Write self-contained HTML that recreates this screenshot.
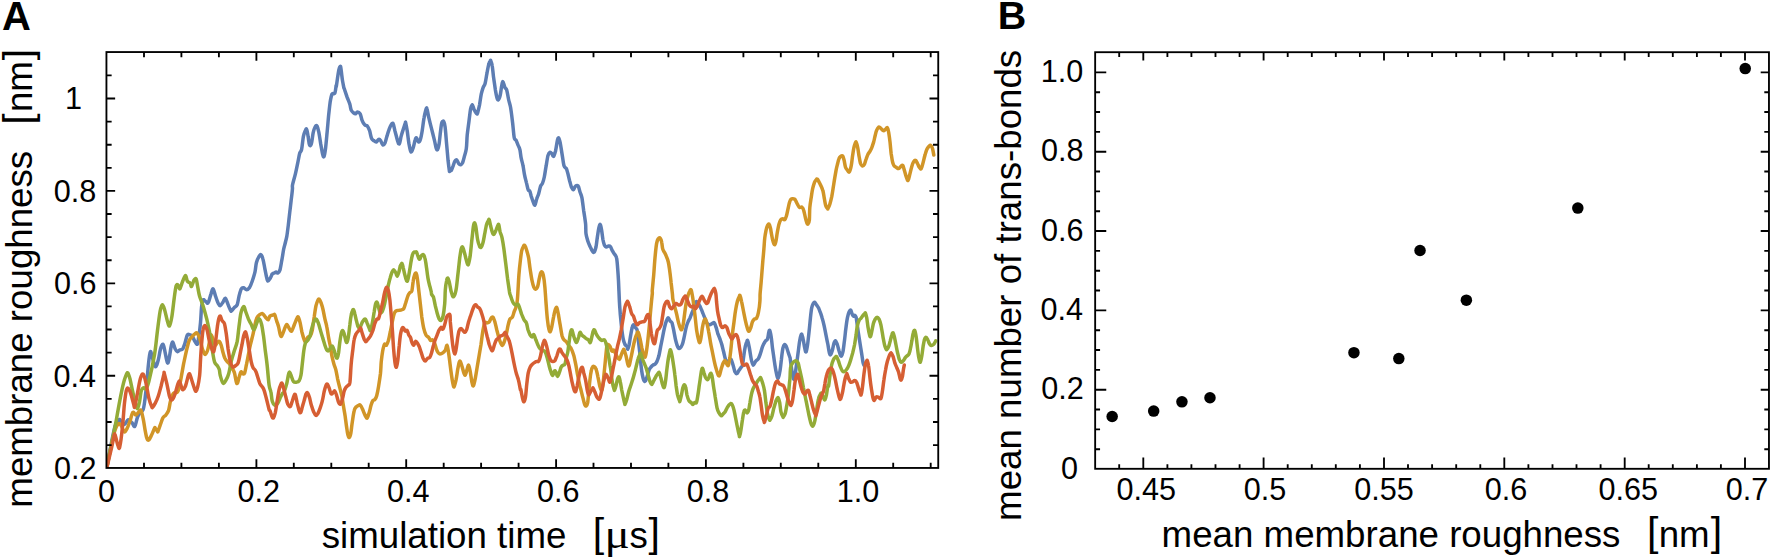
<!DOCTYPE html>
<html><head><meta charset="utf-8"><title>Figure</title>
<style>html,body{margin:0;padding:0;background:#fff}svg{display:block}text{font-family:"Liberation Sans",Arial,Helvetica,sans-serif;fill:#000}</style></head>
<body>
<svg width="1772" height="559" viewBox="0 0 1772 559">
<rect width="1772" height="559" fill="#fff"/>
<clipPath id="ca"><rect x="106.44" y="52.05" width="831.8" height="415.9"/></clipPath>
<g clip-path="url(#ca)" fill="none" stroke-width="3.5" stroke-linejoin="round" stroke-linecap="round">
<path stroke="#5D7DB3" d="M106.8,467.7C107.5,463.6 109.9,450.2 111.3,443.3C112.7,436.4 113.8,430.3 115.0,426.4C116.3,422.5 117.8,420.7 118.8,419.8C119.7,418.9 119.7,419.9 120.7,420.7C121.6,421.5 123.2,424.6 124.4,424.5C125.7,424.3 126.9,420.1 128.2,419.8C129.4,419.5 130.8,421.5 131.9,422.6C133.0,423.7 133.8,427.3 134.8,426.4C135.7,425.4 136.6,419.3 137.6,417.0C138.5,414.6 139.5,413.5 140.4,412.3C141.3,411.0 142.4,411.8 143.2,409.5C144.0,407.1 144.5,402.9 145.1,398.2C145.7,393.5 146.4,387.0 147.0,381.3C147.5,375.6 147.9,368.9 148.5,363.9C149.0,359.0 149.7,352.7 150.4,351.7C151.0,350.8 151.8,355.8 152.6,358.3C153.5,360.8 154.5,366.5 155.4,366.8C156.4,367.1 157.4,363.2 158.2,360.2C159.1,357.2 159.7,351.6 160.5,348.9C161.3,346.3 162.2,343.9 162.9,344.2C163.7,344.5 164.2,348.1 164.8,350.8C165.4,353.5 166.2,358.2 166.7,360.2C167.2,362.2 167.5,363.6 168.0,363.0C168.5,362.4 169.0,359.4 169.5,356.4C170.1,353.5 170.8,347.5 171.4,345.2C172.0,342.8 172.3,341.7 172.9,342.3C173.5,343.0 174.4,347.3 175.2,348.9C175.9,350.5 176.6,351.6 177.4,351.7C178.2,351.9 179.0,350.3 179.9,349.9C180.7,349.4 181.8,350.0 182.7,348.9C183.5,347.8 184.1,345.6 184.9,343.3C185.7,340.9 186.6,336.2 187.4,334.8C188.2,333.4 189.0,334.7 189.8,334.8C190.6,335.0 191.2,334.7 192.1,335.8C192.9,336.9 194.0,340.0 194.9,341.4C195.8,342.8 196.7,344.8 197.3,344.2C198.0,343.6 198.1,341.2 198.6,337.6C199.2,334.0 200.1,327.6 200.5,322.6C201.0,317.6 201.1,311.3 201.5,307.6C201.9,303.8 202.3,301.2 203.0,300.1C203.6,299.0 204.4,300.5 205.2,301.0C206.1,301.5 207.1,304.0 208.0,302.9C209.0,301.8 210.0,296.8 210.9,294.4C211.7,292.1 212.3,288.5 213.1,288.8C213.9,289.1 214.7,293.8 215.6,296.3C216.4,298.8 217.6,302.3 218.4,303.8C219.2,305.4 219.5,306.0 220.3,305.7C221.0,305.4 222.2,303.2 223.1,301.9C223.9,300.7 224.5,297.9 225.3,298.2C226.1,298.5 226.9,301.8 227.8,303.8C228.6,305.9 230.0,309.2 230.6,310.4C231.2,311.6 230.9,311.2 231.5,310.8C232.2,310.3 233.4,308.6 234.3,307.6C235.3,306.6 236.4,306.6 237.2,304.8C237.9,302.9 238.4,299.0 239.0,296.3C239.7,293.6 240.5,290.2 241.3,288.8C242.1,287.4 242.9,287.7 243.7,287.8C244.6,288.0 245.6,289.7 246.6,289.7C247.5,289.7 248.4,289.3 249.4,287.8C250.3,286.4 251.3,283.9 252.2,281.3C253.1,278.6 254.3,275.0 255.0,271.9C255.7,268.8 255.7,265.3 256.4,262.7C257.1,260.0 258.4,257.4 259.2,256.1C260.0,254.8 260.4,254.3 261.1,254.8C261.7,255.3 262.3,256.7 262.9,258.9C263.6,261.2 264.2,265.2 264.8,268.3C265.4,271.4 266.2,275.6 266.7,277.7C267.2,279.8 267.4,281.1 268.0,281.1C268.6,281.1 269.7,278.9 270.5,277.7C271.2,276.5 271.7,274.7 272.3,273.9C273.0,273.2 273.6,273.3 274.2,273.0C274.8,272.7 275.5,272.1 276.1,272.1C276.7,272.1 277.3,273.3 278.0,273.0C278.6,272.7 279.2,272.2 279.9,270.2C280.5,268.2 281.1,264.2 281.7,260.8C282.4,257.3 283.0,252.7 283.6,249.5C284.2,246.4 285.0,244.2 285.5,242.0C286.0,239.8 286.3,239.2 286.8,236.4C287.3,233.5 287.8,229.2 288.3,225.1C288.8,221.0 289.3,216.0 289.8,211.9C290.3,207.9 290.7,204.4 291.1,200.7C291.6,196.9 292.2,192.0 292.4,189.4C292.7,186.8 292.1,187.6 292.5,185.0C293.0,182.5 294.5,177.7 295.4,173.9C296.2,170.2 297.1,166.1 297.8,162.7C298.5,159.2 299.1,155.5 299.7,153.3C300.3,151.1 300.9,152.3 301.6,149.5C302.2,146.7 302.8,139.5 303.4,136.4C304.1,133.2 304.8,131.9 305.3,130.7C305.9,129.5 306.2,128.3 306.6,129.2C307.1,130.2 307.7,133.8 308.1,136.4C308.6,139.0 308.9,143.6 309.5,144.8C310.0,146.1 310.7,145.9 311.3,143.9C312.0,141.8 312.6,135.4 313.2,132.6C313.8,129.8 314.5,128.1 315.1,127.0C315.7,125.9 316.3,125.1 317.0,126.0C317.6,127.0 318.2,129.6 318.9,132.6C319.5,135.6 320.1,140.3 320.7,143.9C321.4,147.5 322.1,152.1 322.6,154.2C323.1,156.3 323.5,157.4 323.9,156.7C324.4,155.9 324.9,153.2 325.4,149.5C325.9,145.8 326.4,140.1 326.9,134.5C327.5,128.9 328.1,121.0 328.6,115.7C329.2,110.4 329.6,106.1 330.1,102.5C330.7,98.9 331.2,95.7 332.0,94.1C332.8,92.5 334.1,94.6 334.8,93.2C335.5,91.7 335.9,86.8 336.1,85.6C336.4,84.5 336.1,87.7 336.3,86.3C336.6,85.0 337.2,80.3 337.6,77.6C338.0,74.9 338.5,71.8 338.8,70.1C339.2,68.3 339.5,67.4 339.8,66.9C340.1,66.4 340.4,65.8 340.7,66.9C341.0,68.1 341.3,71.4 341.6,73.8C341.9,76.2 342.2,79.0 342.6,81.3C343.0,83.6 343.6,86.4 343.8,87.6C344.1,88.8 343.7,86.9 344.2,88.5C344.7,90.0 346.1,94.2 347.0,96.9C348.0,99.6 349.2,102.2 349.9,104.4C350.5,106.6 350.5,108.7 351.2,110.1C351.8,111.5 352.9,112.3 353.6,112.9C354.3,113.5 354.9,114.0 355.5,113.8C356.1,113.7 356.6,111.9 357.4,111.9C358.2,111.9 359.4,112.4 360.2,113.8C361.0,115.2 361.3,118.5 362.1,120.4C362.8,122.3 364.0,124.2 364.9,125.1C365.8,126.0 366.5,125.1 367.3,126.0C368.1,127.0 368.9,128.7 369.6,130.7C370.3,132.8 370.8,136.6 371.5,138.2C372.2,139.9 372.9,139.9 373.7,140.5C374.5,141.1 375.3,142.2 376.2,142.0C377.0,141.8 378.2,139.3 379.0,139.2C379.8,139.0 380.2,140.1 380.9,141.1C381.5,142.0 382.0,144.5 382.7,144.8C383.4,145.1 384.3,144.4 385.0,142.9C385.7,141.5 386.1,138.7 386.9,136.4C387.6,134.0 388.6,130.8 389.3,128.9C390.0,126.9 390.6,125.6 391.2,124.7C391.8,123.8 392.4,122.6 393.1,123.6C393.7,124.6 394.2,128.0 394.9,130.7C395.7,133.5 396.7,137.9 397.4,140.1C398.1,142.3 398.6,144.5 399.3,143.9C399.9,143.3 400.5,138.9 401.1,136.4C401.8,133.9 402.7,131.0 403.4,128.9C404.1,126.7 404.9,124.2 405.3,123.2C405.7,122.2 405.3,121.6 405.7,122.8C406.0,124.1 406.6,127.2 407.2,130.7C407.7,134.2 408.4,140.4 409.0,143.9C409.7,147.4 410.2,151.1 410.9,151.8C411.6,152.4 412.5,149.6 413.2,147.6C413.9,145.7 414.5,141.8 415.1,140.1C415.6,138.5 416.0,137.6 416.6,137.9C417.1,138.2 417.8,141.7 418.4,142.0C419.1,142.3 419.7,141.6 420.3,139.7C420.9,137.9 421.6,134.4 422.2,130.7C422.8,127.0 423.4,121.1 424.1,117.6C424.7,114.1 425.5,111.2 425.9,109.7C426.4,108.2 426.4,107.2 426.9,108.6C427.4,109.9 428.0,114.2 428.8,117.6C429.6,121.0 430.6,125.1 431.6,128.9C432.5,132.6 433.6,136.8 434.4,140.1C435.2,143.4 435.8,147.0 436.3,148.6C436.8,150.1 437.1,150.3 437.6,149.5C438.1,148.7 438.6,147.0 439.1,143.9C439.6,140.8 440.1,134.3 440.6,130.7C441.1,127.1 441.4,123.8 441.9,122.3C442.5,120.8 443.3,120.9 443.8,121.7C444.3,122.5 444.6,123.3 445.1,127.0C445.6,130.7 446.1,138.2 446.6,143.9C447.1,149.5 447.7,156.3 448.1,160.8C448.6,165.3 449.2,169.7 449.4,171.1C449.7,172.6 449.5,169.6 449.8,169.5C450.1,169.3 450.7,171.0 451.3,170.4C451.8,169.8 452.5,167.3 453.2,165.7C453.8,164.1 454.4,161.9 455.0,161.0C455.7,160.1 456.3,159.6 456.9,160.1C457.5,160.5 458.2,163.0 458.8,163.8C459.4,164.6 460.0,164.9 460.7,164.8C461.3,164.6 461.9,164.3 462.5,162.9C463.2,161.5 463.8,158.7 464.4,156.3C465.1,154.0 465.8,152.3 466.3,148.8C466.8,145.3 466.8,140.0 467.2,135.2C467.7,130.4 468.6,124.5 469.1,120.2C469.7,115.8 470.1,111.5 470.6,108.9C471.2,106.3 471.7,104.6 472.3,104.7C472.9,104.9 473.5,108.4 474.2,109.8C474.9,111.3 476.1,113.0 476.6,113.6C477.2,114.1 477.1,114.4 477.6,113.0C478.0,111.6 478.8,108.3 479.5,105.1C480.1,101.9 480.7,96.8 481.3,93.9C482.0,90.9 482.6,89.0 483.2,87.3C483.8,85.6 484.5,85.9 485.1,83.5C485.7,81.2 486.3,76.5 487.0,73.2C487.6,69.9 488.3,65.8 488.9,63.8C489.4,61.8 490.0,61.5 490.4,61.0C490.7,60.4 490.4,59.8 490.7,60.6C491.0,61.4 491.8,62.9 492.2,65.7C492.7,68.4 493.0,72.9 493.5,76.9C494.1,81.0 494.9,86.6 495.4,90.1C496.0,93.5 496.5,96.0 496.9,97.6C497.4,99.2 497.7,100.2 498.2,99.9C498.8,99.6 499.6,98.0 500.1,95.7C500.7,93.5 501.2,88.7 501.6,86.3C502.1,84.0 502.4,81.5 502.9,81.6C503.5,81.8 504.2,85.9 504.8,87.3C505.4,88.7 506.1,88.1 506.7,90.1C507.3,92.1 508.0,96.7 508.6,99.5C509.2,102.3 509.8,103.6 510.5,107.0C511.1,110.4 511.7,115.1 512.3,120.2C513.0,125.2 513.6,134.2 514.2,137.5C514.8,140.9 515.5,139.1 516.1,140.3C516.7,141.6 517.3,143.5 518.0,145.0C518.6,146.6 519.3,147.5 519.9,149.7C520.4,151.9 520.6,155.5 521.2,158.2C521.7,160.8 522.5,162.9 523.0,165.7C523.6,168.5 524.0,172.3 524.6,175.1C525.1,177.9 525.8,180.1 526.4,182.6C527.1,185.1 527.7,188.7 528.3,190.1C528.9,191.5 529.3,190.1 529.8,191.1C530.3,192.0 530.6,194.0 531.1,195.8C531.7,197.5 532.4,199.8 533.0,201.4C533.6,203.0 534.3,205.6 534.9,205.2C535.5,204.7 536.1,200.5 536.8,198.6C537.4,196.7 538.0,195.9 538.6,193.9C539.3,191.8 539.9,188.1 540.5,186.4C541.1,184.6 541.8,185.1 542.4,183.5C543.0,182.0 543.7,179.9 544.3,177.0C544.9,174.0 545.5,169.3 546.2,165.7C546.8,162.1 547.4,157.6 548.0,155.4C548.7,153.1 549.3,152.5 549.9,152.2C550.5,151.9 551.2,152.8 551.8,153.5C552.4,154.2 553.0,156.8 553.7,156.3C554.3,155.8 554.9,153.3 555.6,150.7C556.2,148.0 556.9,142.5 557.4,140.3C558.0,138.2 558.3,137.4 558.7,137.9C559.2,138.4 559.7,140.4 560.3,143.2C560.8,145.9 561.5,150.7 562.1,154.4C562.8,158.2 563.3,163.4 564.0,165.7C564.7,168.0 565.6,167.3 566.3,168.5C566.9,169.8 567.2,171.2 567.8,173.2C568.3,175.3 569.0,178.4 569.6,180.7C570.3,183.1 570.9,185.8 571.5,187.3C572.2,188.8 572.8,189.9 573.4,189.7C574.0,189.6 574.5,187.0 575.3,186.4C576.1,185.7 577.3,185.1 578.1,186.0C578.9,186.9 579.4,190.1 580.0,192.0C580.6,193.9 581.2,194.5 581.9,197.6C582.5,200.8 583.1,206.4 583.7,210.8C584.4,215.2 585.2,220.1 585.6,223.9C586.0,227.8 585.6,230.9 586.0,233.8C586.4,236.7 587.2,239.1 587.9,241.3C588.6,243.5 589.6,245.4 590.3,247.0C591.1,248.5 591.6,249.9 592.2,250.7C592.8,251.6 593.5,252.9 594.1,252.2C594.7,251.6 595.4,249.4 596.0,247.0C596.5,244.5 596.8,240.7 597.3,237.6C597.8,234.4 598.3,230.4 598.8,228.2C599.3,226.0 599.8,224.1 600.3,224.4C600.8,224.7 601.2,227.6 601.6,230.1C602.0,232.6 602.5,237.0 602.9,239.5C603.4,242.0 603.9,243.8 604.4,245.1C605.0,246.3 605.6,246.8 606.3,247.0C607.0,247.1 607.9,246.1 608.6,246.0C609.2,246.0 609.8,245.8 610.4,246.6C611.1,247.4 611.6,249.4 612.3,250.7C613.0,252.0 614.0,253.2 614.8,254.5C615.5,255.7 616.2,256.1 616.6,258.2C617.1,260.4 617.3,263.9 617.6,267.6C617.9,271.4 618.2,275.2 618.5,280.8C618.8,286.4 619.1,295.7 619.4,301.3C619.7,306.9 620.0,310.0 620.3,314.4C620.7,318.8 621.2,323.5 621.6,327.6C622.1,331.6 622.6,336.0 623.2,338.9C623.7,341.7 624.4,343.2 625.0,344.5C625.7,345.7 626.4,345.6 626.9,346.4C627.4,347.2 627.5,349.5 627.8,349.2C628.2,348.9 628.7,346.8 629.2,344.5C629.6,342.1 630.2,337.9 630.7,335.1C631.2,332.3 631.7,329.3 632.2,327.6C632.6,325.9 633.0,324.8 633.5,324.8C634.0,324.8 634.7,326.6 635.4,327.6C636.0,328.5 636.8,328.5 637.2,330.4C637.7,332.3 637.8,335.3 638.2,338.9C638.6,342.5 639.2,347.6 639.7,352.0C640.2,356.4 640.6,361.4 641.0,365.2C641.4,368.9 641.8,372.0 642.3,374.6C642.8,377.1 643.3,379.1 643.8,380.2C644.3,381.3 644.8,381.8 645.3,381.1C645.9,380.5 646.6,378.3 647.2,376.4C647.8,374.6 648.5,371.4 649.1,369.9C649.7,368.3 650.3,367.8 651.0,367.0C651.6,366.3 652.2,365.6 652.8,365.2C653.5,364.7 654.4,364.8 655.1,364.2C655.8,363.6 656.3,362.8 657.0,361.4C657.6,360.0 658.2,358.3 658.9,355.8C659.5,353.3 660.1,349.5 660.7,346.4C661.4,343.2 662.0,340.1 662.6,337.0C663.2,333.8 663.9,330.2 664.5,327.6C665.1,324.9 665.7,322.6 666.4,321.0C667.0,319.4 667.6,317.8 668.2,317.8C668.9,317.8 669.5,320.2 670.1,321.0C670.8,321.8 671.4,321.2 672.0,322.9C672.6,324.6 673.3,328.4 673.9,331.3C674.5,334.3 675.1,338.1 675.8,340.7C676.5,343.4 677.3,346.1 678.0,347.3C678.7,348.6 679.2,348.7 679.9,348.2C680.6,347.8 681.6,346.4 682.3,344.5C683.1,342.6 683.6,339.8 684.2,337.0C684.8,334.2 685.5,330.1 686.1,327.6C686.7,325.1 687.3,323.5 688.0,321.9C688.6,320.4 689.2,319.6 689.9,318.2C690.5,316.8 691.1,315.1 691.7,313.5C692.4,311.9 693.0,310.5 693.6,308.8C694.2,307.1 695.0,304.3 695.5,303.2C696.0,302.0 696.2,301.3 696.8,301.6C697.4,302.0 698.5,303.8 699.2,305.0C700.0,306.2 700.5,307.4 701.1,308.8C701.8,310.2 702.4,311.9 703.0,313.5C703.6,315.1 704.3,316.6 704.9,318.2C705.5,319.7 706.0,321.8 706.8,322.9C707.5,324.0 708.6,324.7 709.6,324.8C710.5,324.9 711.6,323.8 712.4,323.4C713.2,323.1 713.7,322.2 714.3,322.9C714.9,323.6 715.5,325.7 716.2,327.6C716.8,329.5 717.4,332.3 718.0,334.2C718.7,336.0 719.3,337.1 719.9,338.9C720.5,340.6 721.2,342.3 721.8,344.5C722.4,346.7 723.0,349.5 723.7,352.0C724.3,354.5 724.9,358.0 725.6,359.5C726.2,361.1 726.8,361.2 727.4,361.4C728.1,361.6 728.7,360.8 729.3,360.5C729.9,360.1 730.6,358.7 731.2,359.5C731.8,360.3 732.4,363.1 733.1,365.2C733.7,367.2 734.3,370.3 734.9,371.7C735.6,373.1 736.2,373.8 736.8,373.6C737.5,373.5 738.1,371.7 738.7,370.8C739.3,369.9 740.0,368.9 740.6,368.0C741.2,367.0 741.9,367.2 742.5,365.2C743.0,363.1 743.3,358.9 743.8,355.8C744.2,352.6 744.8,348.7 745.3,346.4C745.8,344.0 746.4,342.6 746.8,341.7C747.2,340.7 747.3,339.6 747.7,340.7C748.2,341.8 748.8,345.1 749.4,348.2C750.0,351.4 750.7,356.7 751.3,359.5C751.9,362.3 752.5,364.8 753.2,365.2C753.9,365.5 754.7,362.5 755.6,361.4C756.5,360.3 757.7,359.8 758.4,358.6C759.2,357.3 759.6,355.9 760.3,353.9C761.0,351.8 761.8,348.4 762.6,346.4C763.4,344.3 764.2,342.9 765.0,341.7C765.8,340.4 766.8,340.4 767.5,338.9C768.1,337.3 768.4,333.7 768.8,332.3C769.1,330.9 769.3,329.6 769.7,330.4C770.1,331.2 770.7,334.0 771.2,337.0C771.7,339.9 772.0,344.2 772.5,348.2C773.1,352.3 773.8,357.3 774.4,361.4C775.0,365.5 775.7,369.9 776.3,372.7C776.9,375.5 777.5,378.6 778.2,378.3C778.8,378.0 779.5,373.9 780.0,370.8C780.6,367.7 780.9,363.3 781.4,359.5C781.8,355.8 782.4,350.8 782.9,348.2C783.4,345.7 783.8,344.8 784.4,344.5C784.9,344.2 785.6,345.1 786.2,346.4C786.9,347.6 787.5,350.1 788.1,352.0C788.7,353.9 789.6,356.4 790.0,357.6C790.4,358.9 790.0,357.6 790.3,359.5C790.6,361.4 791.2,366.1 791.6,368.9C792.0,371.7 792.5,374.7 792.9,376.4C793.3,378.2 793.6,379.9 794.1,379.2C794.5,378.6 794.9,375.3 795.4,372.7C795.8,370.0 796.2,366.7 796.7,363.3C797.2,359.8 797.7,355.8 798.2,352.0C798.7,348.2 799.2,343.5 799.7,340.7C800.2,337.9 800.6,336.1 801.0,335.1C801.4,334.1 801.5,333.8 801.9,334.7C802.3,335.7 803.0,338.5 803.4,340.7C803.9,343.0 804.3,346.4 804.8,348.2C805.2,350.1 805.6,352.6 806.1,352.0C806.5,351.4 807.1,347.9 807.6,344.5C808.1,341.0 808.6,335.7 809.1,331.3C809.6,327.0 810.0,322.1 810.4,318.2C810.8,314.3 811.2,310.3 811.7,307.8C812.2,305.4 812.7,304.5 813.2,303.5C813.7,302.6 814.2,302.0 814.7,302.2C815.3,302.5 816.0,304.1 816.6,305.0C817.2,306.0 817.8,306.6 818.5,307.8C819.1,309.1 819.7,310.8 820.4,312.5C821.0,314.3 821.6,316.0 822.2,318.2C822.9,320.4 823.5,322.9 824.1,325.7C824.7,328.5 825.4,332.0 826.0,335.1C826.6,338.2 827.3,341.7 827.9,344.5C828.4,347.3 828.7,350.3 829.2,352.0C829.6,353.7 830.0,355.1 830.5,354.8C831.0,354.5 831.8,352.0 832.4,350.1C832.9,348.2 833.4,345.1 833.9,343.5C834.4,342.0 834.8,340.6 835.4,340.7C835.9,340.9 836.6,342.8 837.3,344.5C837.9,346.2 838.5,349.1 839.1,351.1C839.8,353.0 840.4,356.0 841.0,356.1C841.6,356.3 842.4,354.3 842.9,352.0C843.4,349.7 843.8,346.1 844.2,342.6C844.7,339.2 845.1,335.1 845.5,331.3C846.0,327.6 846.5,323.0 847.0,320.1C847.5,317.1 848.1,315.1 848.5,313.5C849.0,311.9 849.5,311.2 849.9,310.7C850.2,310.1 850.4,309.7 850.8,310.3C851.2,310.9 851.8,313.4 852.3,314.4C852.8,315.4 853.2,316.1 853.6,316.3C854.1,316.5 854.5,315.2 854.9,315.4C855.3,315.5 855.6,315.5 856.1,317.2C856.5,319.0 856.9,322.7 857.4,325.7C857.8,328.7 858.2,332.0 858.7,335.1C859.2,338.2 859.7,341.4 860.2,344.5C860.7,347.6 861.2,350.9 861.7,353.9C862.2,356.9 862.6,360.5 863.0,362.3C863.4,364.2 863.8,364.7 863.9,365.2"/>
<path stroke="#D19527" d="M106.8,467.7C107.5,463.9 109.9,451.4 111.3,445.2C112.7,438.9 113.8,433.7 115.0,430.1C116.3,426.5 117.7,424.2 118.8,423.5C119.9,422.9 120.7,425.0 121.6,426.4C122.5,427.8 123.5,431.7 124.4,432.0C125.4,432.3 126.3,430.1 127.2,428.2C128.2,426.4 129.1,423.4 130.1,420.7C131.0,418.1 131.9,413.2 132.9,412.3C133.8,411.3 134.8,415.1 135.7,415.1C136.6,415.1 137.6,413.1 138.5,412.3C139.4,411.5 140.2,409.3 141.0,410.4C141.7,411.5 142.5,415.6 143.2,418.9C143.9,422.1 144.5,426.8 145.1,430.1C145.7,433.4 146.3,437.0 147.0,438.6C147.6,440.2 148.1,440.5 148.9,439.9C149.6,439.3 150.7,436.8 151.7,434.8C152.6,432.9 153.9,429.4 154.5,428.2C155.1,427.1 154.6,427.4 155.1,427.9C155.5,428.3 156.8,430.4 157.3,431.1C157.8,431.7 157.4,432.6 157.9,431.6C158.3,430.7 159.3,427.7 160.1,425.4C161.0,423.1 162.0,419.6 162.9,417.9C163.9,416.2 164.8,416.3 165.8,415.1C166.7,413.8 167.8,412.7 168.6,410.4C169.4,408.0 169.7,403.8 170.5,401.0C171.2,398.2 172.2,394.9 173.3,393.5C174.4,392.1 176.1,393.3 177.0,392.5C178.0,391.8 178.3,391.0 178.9,388.8C179.5,386.6 180.0,383.5 180.8,379.4C181.6,375.3 182.7,368.7 183.6,363.9C184.6,359.2 185.5,354.7 186.4,350.8C187.4,346.9 188.3,342.8 189.2,340.5C190.2,338.1 191.1,337.8 192.1,336.7C193.0,335.6 194.1,334.5 194.9,333.9C195.7,333.3 196.1,332.6 196.8,332.9C197.4,333.3 198.0,334.4 198.6,335.8C199.3,337.2 199.9,339.2 200.5,341.4C201.1,343.6 201.6,346.7 202.4,348.9C203.2,351.1 204.3,354.6 205.2,354.6C206.2,354.6 207.3,351.4 208.0,348.9C208.8,346.4 209.4,341.9 209.9,339.5C210.4,337.2 210.6,334.5 211.2,334.8C211.9,335.1 213.0,339.7 213.7,341.4C214.4,343.1 214.9,345.0 215.6,345.2C216.2,345.3 216.8,343.0 217.4,342.3C218.1,341.7 218.7,340.9 219.3,341.4C219.9,341.9 220.6,343.3 221.2,345.2C221.8,347.0 222.4,350.5 223.1,352.7C223.7,354.9 224.3,356.9 224.9,358.3C225.6,359.7 226.0,360.2 226.8,361.1C227.6,362.1 228.9,362.8 229.6,363.9C230.4,365.0 230.7,366.3 231.5,367.7C232.3,369.1 233.5,369.8 234.3,372.4C235.2,375.0 236.0,382.7 236.8,383.5C237.6,384.4 238.4,379.5 239.0,377.5C239.7,375.6 240.3,372.5 240.9,371.9C241.5,371.3 242.2,373.6 242.8,373.8C243.4,373.9 244.1,374.5 244.7,372.8C245.3,371.2 245.9,367.0 246.6,363.9C247.2,360.9 247.8,357.7 248.4,354.6C249.1,351.4 249.5,348.6 250.3,345.2C251.1,341.7 252.3,337.3 253.1,333.9C253.9,330.4 254.4,327.2 255.0,324.5C255.6,321.8 256.1,319.5 256.9,317.9C257.7,316.3 258.8,315.4 259.7,314.7C260.6,314.0 261.6,313.2 262.5,313.6C263.5,314.0 264.4,315.9 265.3,317.0C266.3,318.0 267.4,319.9 268.2,319.8C268.9,319.6 269.2,316.8 270.0,316.0C270.8,315.3 272.0,315.3 272.8,315.1C273.6,314.9 274.1,313.8 274.7,314.7C275.3,315.7 275.9,318.8 276.6,320.7C277.2,322.7 277.8,324.0 278.5,326.4C279.1,328.7 279.8,333.2 280.3,334.8C280.9,336.5 281.0,336.9 281.6,336.1C282.3,335.4 283.4,331.9 284.1,330.1C284.8,328.3 285.4,326.3 286.0,325.4C286.5,324.6 286.7,324.2 287.3,324.9C287.9,325.5 289.0,328.2 289.7,329.2C290.4,330.2 290.8,331.8 291.6,331.1C292.4,330.3 293.6,326.5 294.4,324.5C295.3,322.5 296.1,320.1 296.7,318.9C297.3,317.6 297.6,316.3 298.2,317.0C298.7,317.6 299.4,320.1 300.1,322.6C300.7,325.1 301.3,329.3 301.9,332.0C302.6,334.7 303.2,336.9 303.8,338.6C304.4,340.3 305.1,342.5 305.7,342.3C306.3,342.2 306.8,338.7 307.6,337.6C308.4,336.5 309.6,337.0 310.4,335.8C311.2,334.5 311.6,333.3 312.3,330.1C312.9,327.0 313.5,321.0 314.2,317.0C314.8,312.9 315.4,308.5 316.0,305.7C316.7,302.9 317.4,301.2 317.9,300.1C318.4,299.0 318.7,298.7 319.2,299.1C319.8,299.6 320.5,301.2 321.1,302.9C321.7,304.6 322.4,306.8 323.0,309.5C323.6,312.1 324.2,316.0 324.9,318.9C325.5,321.7 326.1,323.2 326.7,326.4C327.4,329.5 328.0,334.2 328.6,337.6C329.2,341.1 329.9,343.9 330.5,347.0C331.1,350.2 331.4,353.6 332.0,356.4C332.6,359.2 333.3,361.8 333.9,363.9C334.5,366.1 335.1,367.1 335.8,369.6C336.4,372.1 337.0,375.7 337.6,378.8C338.3,381.9 339.2,385.4 339.9,388.2C340.6,391.0 341.2,392.9 341.8,395.7C342.3,398.5 342.7,401.6 343.3,405.1C343.8,408.5 344.6,412.6 345.2,416.4C345.7,420.1 346.2,424.5 346.7,427.6C347.1,430.8 347.5,433.5 348.0,435.2C348.4,436.8 348.8,437.7 349.3,437.4C349.8,437.1 350.3,435.8 350.8,433.3C351.3,430.7 351.7,425.8 352.3,422.0C352.9,418.2 353.5,413.2 354.2,410.7C354.8,408.2 355.4,407.8 356.1,407.0C356.7,406.1 357.6,405.8 358.3,405.5C359.0,405.2 359.5,404.5 360.2,405.1C360.9,405.7 361.8,407.4 362.4,408.9C363.1,410.3 363.7,412.1 364.3,413.5C364.9,415.0 365.7,416.6 366.2,417.3C366.7,418.0 366.8,418.7 367.3,417.9C367.8,417.1 368.6,414.7 369.2,412.6C369.8,410.5 370.5,407.1 371.1,405.1C371.7,403.1 372.3,401.3 373.0,400.4C373.6,399.5 374.2,400.2 374.8,399.5C375.5,398.7 376.1,397.9 376.7,395.7C377.3,393.5 378.0,390.1 378.6,386.3C379.2,382.5 380.0,377.2 380.5,373.2C380.9,369.1 380.9,365.8 381.2,362.1C381.6,358.3 382.2,353.8 382.7,350.8C383.3,347.8 384.0,345.2 384.6,344.2C385.2,343.3 385.9,345.8 386.5,345.2C387.1,344.5 387.7,342.7 388.4,340.5C389.0,338.3 389.6,335.0 390.3,332.0C390.9,329.0 391.5,325.6 392.1,322.6C392.8,319.6 393.4,316.1 394.0,314.2C394.6,312.2 395.1,311.6 395.9,311.0C396.7,310.3 397.8,310.6 398.7,310.4C399.6,310.2 400.7,310.1 401.5,309.8C402.4,309.5 403.1,309.7 403.8,308.5C404.5,307.4 404.9,305.1 405.7,302.9C406.4,300.7 407.4,297.1 408.1,295.4C408.8,293.6 409.4,293.3 410.0,292.5C410.6,291.8 411.3,292.5 411.9,290.7C412.4,288.8 412.7,283.9 413.2,281.3C413.6,278.6 414.2,276.0 414.7,274.7C415.2,273.4 415.7,272.6 416.2,273.4C416.6,274.2 417.1,276.5 417.5,279.4C417.9,282.3 418.3,286.6 418.8,290.7C419.3,294.7 419.8,299.4 420.3,303.8C420.8,308.2 421.3,312.9 421.8,317.0C422.4,321.0 423.0,325.3 423.7,328.2C424.4,331.2 425.1,333.3 425.9,334.8C426.8,336.4 428.0,336.7 428.8,337.6C429.6,338.6 430.0,340.1 430.6,340.5C431.3,340.8 431.9,339.6 432.5,339.9C433.2,340.2 433.8,340.8 434.4,342.3C435.0,343.8 435.7,347.2 436.3,348.9C436.9,350.6 437.5,351.8 438.2,352.7C438.8,353.5 439.2,353.8 440.0,353.9C440.8,353.9 441.9,353.6 442.8,352.9C443.7,352.3 444.5,351.4 445.3,350.1C446.0,348.9 446.5,344.5 447.1,345.4C447.8,346.4 448.4,351.5 449.0,355.8C449.6,360.0 450.3,366.3 450.9,370.8C451.5,375.3 452.2,380.3 452.8,383.0C453.3,385.7 453.6,387.2 454.1,386.8C454.6,386.3 455.3,383.2 456.0,380.2C456.6,377.2 457.3,371.9 457.8,368.9C458.4,365.9 458.8,363.6 459.2,362.3C459.6,361.1 459.8,360.6 460.3,361.4C460.8,362.2 461.5,365.0 462.2,367.0C462.8,369.1 463.5,372.3 464.1,373.6C464.6,374.9 464.8,375.7 465.4,374.9C465.9,374.1 466.7,370.5 467.2,368.9C467.8,367.3 468.1,364.8 468.6,365.2C469.0,365.5 469.5,368.0 470.1,370.8C470.6,373.6 471.4,379.6 471.9,382.1C472.5,384.6 472.9,386.5 473.4,385.8C474.0,385.2 474.7,381.4 475.3,378.3C475.9,375.2 476.6,370.8 477.2,367.0C477.8,363.3 478.5,359.5 479.1,355.8C479.7,352.0 480.3,348.6 481.0,344.5C481.6,340.4 482.2,334.9 482.8,331.3C483.5,327.7 484.0,324.3 484.7,322.9C485.4,321.5 486.2,323.0 487.0,322.9C487.7,322.7 488.5,322.7 489.2,321.9C489.9,321.2 490.5,319.0 491.1,318.2C491.7,317.4 492.4,316.6 493.0,317.2C493.6,317.9 494.2,319.9 494.9,321.9C495.5,324.0 496.1,327.0 496.7,329.5C497.4,332.0 498.0,334.8 498.6,337.0C499.2,339.2 499.9,341.2 500.5,342.6C501.1,344.0 501.8,345.6 502.4,345.4C503.0,345.3 503.6,343.4 504.3,341.7C504.9,339.9 505.5,337.8 506.1,335.1C506.8,332.4 507.4,328.4 508.0,325.7C508.6,323.0 509.2,320.5 509.9,319.1C510.6,317.7 511.6,318.5 512.3,317.2C513.1,316.0 513.6,313.3 514.2,311.6C514.8,309.9 515.6,308.9 516.1,306.9C516.6,304.9 516.9,304.7 517.4,299.4C517.9,294.1 518.4,281.7 518.9,275.2C519.4,268.6 519.9,264.2 520.4,260.1C520.9,256.1 521.2,253.1 521.7,250.7C522.3,248.4 523.1,246.9 523.6,246.0C524.1,245.2 524.4,244.9 524.9,245.7C525.5,246.4 526.2,248.6 526.8,250.7C527.4,252.8 528.1,255.1 528.7,258.2C529.2,261.4 529.6,265.8 530.2,269.5C530.8,273.3 531.4,277.8 532.1,280.8C532.7,283.8 533.4,286.0 533.9,287.4C534.5,288.8 534.8,289.4 535.4,289.2C536.1,289.1 537.1,288.2 537.7,286.4C538.3,284.7 538.7,281.1 539.2,278.9C539.7,276.7 540.1,274.5 540.5,273.3C541.0,272.1 541.4,271.5 541.8,271.8C542.3,272.1 542.8,272.7 543.3,275.2C543.8,277.6 544.4,281.5 544.8,286.4C545.3,291.4 545.7,299.4 546.2,305.0C546.6,310.6 547.0,316.0 547.5,320.1C547.9,324.1 548.5,327.5 549.0,329.5C549.4,331.4 549.8,332.2 550.3,331.7C550.8,331.2 551.2,329.2 551.8,326.6C552.4,324.1 553.0,319.3 553.7,316.3C554.3,313.3 555.0,310.2 555.6,308.8C556.1,307.4 556.4,306.9 556.9,307.8C557.3,308.8 557.8,311.5 558.4,314.4C558.9,317.4 559.6,322.1 560.3,325.7C560.9,329.3 561.5,333.7 562.1,336.0C562.8,338.4 563.3,338.9 564.0,339.8C564.7,340.7 565.5,340.7 566.3,341.7C567.0,342.6 567.8,344.2 568.7,345.4C569.6,346.7 570.7,347.5 571.5,349.2C572.4,350.9 573.1,353.2 573.8,355.6C574.5,358.1 575.0,361.0 575.7,364.1C576.3,367.2 576.9,371.1 577.5,374.4C578.2,377.7 578.8,381.0 579.4,383.8C580.0,386.6 580.7,388.8 581.3,391.3C581.9,393.8 582.6,396.7 583.2,398.9C583.7,401.0 584.2,403.3 584.7,404.5C585.2,405.7 585.7,406.3 586.2,406.0C586.7,405.7 587.2,405.1 587.7,402.6C588.1,400.2 588.4,395.1 588.8,391.3C589.2,387.6 589.5,383.5 589.9,380.1C590.3,376.6 590.8,372.9 591.3,370.7C591.7,368.5 592.1,367.6 592.6,366.9C593.0,366.2 593.5,366.2 594.1,366.5C594.6,366.8 595.3,367.2 595.9,368.8C596.6,370.4 597.2,373.5 597.8,376.3C598.5,379.1 599.1,383.4 599.7,385.7C600.3,388.0 600.7,390.1 601.2,390.4C601.7,390.7 602.1,389.9 602.5,387.6C603.0,385.2 603.4,380.7 603.8,376.3C604.3,371.9 604.8,366.3 605.3,361.3C605.8,356.3 606.4,349.2 606.8,346.4C607.3,343.6 607.6,344.5 608.2,344.5C608.7,344.5 609.4,345.3 610.0,346.4C610.6,347.5 611.3,350.4 611.9,351.1C612.5,351.7 613.0,349.3 613.8,350.1C614.5,350.9 615.6,354.2 616.6,355.8C617.5,357.3 618.6,359.7 619.4,359.5C620.2,359.4 620.6,356.4 621.3,354.8C621.9,353.3 622.7,351.0 623.2,350.1C623.6,349.3 623.6,348.8 624.1,349.7C624.6,350.7 625.3,353.4 626.0,355.8C626.6,358.2 627.3,362.6 627.8,364.2C628.4,365.8 628.6,366.6 629.2,365.5C629.7,364.4 630.4,360.5 631.0,357.6C631.7,354.8 632.3,351.2 632.9,348.2C633.5,345.3 634.2,342.1 634.8,339.8C635.4,337.4 636.1,335.4 636.7,334.2C637.2,332.9 637.6,331.5 638.2,332.3C638.7,333.1 639.4,336.2 640.1,338.9C640.7,341.5 641.3,345.4 641.9,348.2C642.6,351.1 643.3,354.4 643.8,355.8C644.4,357.2 644.9,357.6 645.3,356.7C645.8,355.8 646.2,353.1 646.6,350.1C647.1,347.2 647.5,343.2 648.0,338.9C648.4,334.5 649.0,329.1 649.5,323.8C650.0,318.5 650.5,311.9 651.0,306.9C651.4,301.9 652.0,296.5 652.3,293.8C652.5,291.0 652.1,293.3 652.3,290.2C652.6,287.1 653.2,280.2 653.7,275.2C654.1,270.1 654.4,264.8 654.8,260.1C655.2,255.4 655.7,250.3 656.1,247.0C656.5,243.7 656.9,241.9 657.4,240.4C657.9,238.9 658.4,238.5 658.9,238.1C659.4,237.8 659.9,237.8 660.4,238.5C660.9,239.2 661.4,240.6 661.7,242.3C662.1,244.0 662.2,247.1 662.7,248.9C663.1,250.6 663.9,251.4 664.6,252.6C665.2,253.9 665.8,254.8 666.4,256.4C667.1,257.9 667.7,259.5 668.3,262.0C668.9,264.5 669.3,268.0 669.8,271.4C670.3,274.8 670.7,278.9 671.1,282.7C671.6,286.4 672.1,291.2 672.4,293.9C672.7,296.7 672.5,297.2 672.9,299.4C673.3,301.6 674.2,304.4 674.8,306.9C675.4,309.4 676.1,311.8 676.7,314.4C677.3,317.1 678.0,320.5 678.6,322.9C679.2,325.2 679.9,327.4 680.5,328.5C681.0,329.6 681.3,330.2 681.8,329.5C682.2,328.7 682.8,326.6 683.3,323.8C683.8,321.0 684.3,316.0 684.8,312.5C685.3,309.1 685.6,306.0 686.1,303.2C686.6,300.3 687.3,297.7 688.0,295.6C688.6,293.6 689.3,291.9 689.9,290.9C690.4,290.0 690.7,288.9 691.2,290.0C691.6,291.1 692.2,294.4 692.7,297.5C693.2,300.6 693.7,305.0 694.2,308.8C694.6,312.5 695.1,316.3 695.5,320.1C695.9,323.8 696.3,328.2 696.8,331.3C697.3,334.5 697.8,337.0 698.3,338.9C698.8,340.7 699.3,342.9 699.8,342.6C700.3,342.3 700.7,339.5 701.1,337.0C701.6,334.5 702.0,330.2 702.4,327.6C702.9,324.9 703.4,322.4 703.9,321.0C704.4,319.6 705.0,318.8 705.4,319.1C705.9,319.4 706.2,320.8 706.8,322.9C707.3,324.9 708.0,328.0 708.6,331.3C709.3,334.6 709.9,339.2 710.5,342.6C711.1,346.1 711.8,348.9 712.4,352.0C713.0,355.1 713.7,358.6 714.3,361.4C714.9,364.2 715.5,366.7 716.2,368.9C716.8,371.1 717.5,373.5 718.0,374.6C718.6,375.6 718.8,376.4 719.4,375.5C719.9,374.6 720.6,370.9 721.2,368.9C721.9,366.9 722.5,364.7 723.1,363.3C723.7,361.9 724.4,360.3 725.0,360.5C725.6,360.6 726.3,363.4 726.9,364.2C727.4,365.0 727.9,366.3 728.4,365.2C728.9,364.1 729.4,360.8 729.9,357.6C730.3,354.5 730.8,350.4 731.2,346.4C731.6,342.3 732.0,337.3 732.5,333.2C733.0,329.1 733.5,325.7 734.0,321.9C734.5,318.2 734.9,314.1 735.5,310.7C736.1,307.2 736.8,303.6 737.4,301.3C738.0,298.9 738.8,297.5 739.3,296.6C739.7,295.6 739.6,294.9 740.0,295.6C740.4,296.4 741.0,298.8 741.5,301.3C742.1,303.8 742.8,307.5 743.4,310.7C744.0,313.8 744.7,317.2 745.3,320.1C745.9,322.9 746.6,325.7 747.2,327.6C747.7,329.5 748.1,331.2 748.7,331.3C749.2,331.5 749.9,330.1 750.5,328.5C751.2,327.0 751.8,323.5 752.4,321.9C753.0,320.4 753.6,319.7 754.3,319.1C755.0,318.5 755.9,319.3 756.6,318.2C757.2,317.1 757.9,315.4 758.4,312.5C759.0,309.7 759.7,304.4 759.9,301.3C760.2,298.2 759.9,297.0 760.1,293.9C760.3,290.8 760.8,286.4 761.1,282.7C761.4,278.9 761.7,275.2 762.0,271.4C762.3,267.6 762.6,263.9 762.9,260.1C763.3,256.4 763.6,252.6 763.9,248.9C764.2,245.1 764.4,240.7 764.8,237.6C765.2,234.4 765.7,232.1 766.1,230.1C766.6,228.0 767.1,226.4 767.6,225.4C768.1,224.4 768.7,223.6 769.1,224.1C769.6,224.5 770.0,226.2 770.5,228.2C770.9,230.1 771.3,233.4 771.8,235.7C772.2,238.0 772.8,240.8 773.3,242.3C773.8,243.8 774.3,245.0 774.8,244.7C775.3,244.4 775.7,242.5 776.1,240.4C776.5,238.3 776.9,234.6 777.4,231.9C777.9,229.3 778.4,226.5 778.9,224.4C779.5,222.4 780.2,220.7 780.8,219.7C781.4,218.8 782.0,218.8 782.7,218.8C783.3,218.8 783.9,220.2 784.6,219.7C785.2,219.3 785.9,217.7 786.4,216.0C787.0,214.2 787.4,211.6 787.9,209.4C788.4,207.2 788.9,204.5 789.4,202.8C789.9,201.1 790.4,199.9 791.0,199.2C791.6,198.6 792.3,198.7 792.9,198.7C793.5,198.7 794.3,198.9 794.8,199.2C795.3,199.6 795.3,200.0 795.8,200.9C796.3,201.8 797.1,203.6 797.7,204.7C798.3,205.8 798.9,207.1 799.6,207.5C800.3,207.9 801.1,206.7 801.8,207.1C802.5,207.6 803.2,208.7 803.7,210.3C804.3,212.0 804.7,214.9 805.2,216.9C805.7,218.9 806.3,221.4 806.7,222.5C807.2,223.7 807.6,224.5 808.0,224.1C808.5,223.6 809.1,222.5 809.4,219.7C809.6,217.0 809.5,211.3 809.8,207.7C810.1,204.1 810.6,201.4 811.1,198.3C811.6,195.2 812.0,191.6 812.6,188.9C813.2,186.3 813.9,183.9 814.5,182.3C815.1,180.8 815.9,180.1 816.4,179.5C816.8,179.0 816.8,178.7 817.3,179.1C817.8,179.6 818.6,181.2 819.2,182.3C819.8,183.5 820.4,184.7 821.1,186.1C821.7,187.5 822.4,188.8 822.9,190.8C823.5,192.8 823.8,195.8 824.3,198.3C824.7,200.8 825.2,204.1 825.8,205.8C826.3,207.5 827.3,208.2 827.6,208.6C828.0,209.1 827.6,209.1 828.0,208.3C828.4,207.5 829.3,205.9 829.9,203.9C830.5,202.0 831.2,199.2 831.8,196.4C832.3,193.6 832.8,190.2 833.3,187.0C833.8,183.9 834.3,180.5 834.8,177.6C835.3,174.8 835.7,172.3 836.1,170.1C836.5,167.9 836.9,166.4 837.4,164.5C837.9,162.6 838.4,160.2 838.9,158.9C839.4,157.5 839.8,157.1 840.4,156.6C841.0,156.1 842.0,155.3 842.7,156.0C843.3,156.7 843.7,158.9 844.2,160.7C844.6,162.6 845.0,165.7 845.5,167.3C846.0,168.9 846.7,169.3 847.4,170.1C848.0,170.9 848.6,172.6 849.2,172.0C849.9,171.4 850.6,168.9 851.1,166.4C851.7,163.9 852.0,160.1 852.4,157.0C852.9,153.8 853.4,149.9 853.9,147.6C854.4,145.2 855.1,143.8 855.4,142.9C855.8,142.0 855.8,141.5 856.2,142.3C856.6,143.1 857.2,145.1 857.7,147.6C858.2,150.0 858.7,154.3 859.2,157.0C859.7,159.6 860.0,162.0 860.5,163.5C861.1,165.1 861.8,165.8 862.4,166.0C863.0,166.1 863.7,165.7 864.3,164.5C864.9,163.3 865.5,160.6 866.2,158.9C866.8,157.1 867.4,155.4 868.0,154.2C868.7,152.9 869.3,152.4 869.9,151.3C870.5,150.2 871.2,149.1 871.8,147.6C872.4,146.0 873.1,143.8 873.7,141.9C874.2,140.1 874.5,138.2 875.0,136.3C875.5,134.4 875.9,132.2 876.5,130.7C877.1,129.2 877.7,127.8 878.4,127.3C879.0,126.8 879.6,127.4 880.3,127.8C880.9,128.3 881.5,129.3 882.1,129.7C882.8,130.2 883.4,130.8 884.0,130.7C884.6,130.5 885.3,129.3 885.9,128.8C886.5,128.3 886.9,127.2 887.4,127.8C887.9,128.5 888.3,130.2 888.7,132.5C889.1,134.9 889.6,138.5 890.0,141.9C890.4,145.4 890.7,149.9 891.1,153.2C891.6,156.5 892.0,159.6 892.5,161.7C892.9,163.7 893.2,164.5 893.8,165.4C894.4,166.4 895.4,166.8 896.2,167.3C897.0,167.8 897.9,168.8 898.7,168.6C899.4,168.5 900.2,166.9 900.9,166.4C901.6,165.8 902.2,164.8 902.8,165.4C903.4,166.1 903.7,168.2 904.3,170.1C904.9,172.0 905.6,175.0 906.2,176.7C906.8,178.4 907.4,180.9 908.1,180.5C908.7,180.0 909.3,176.2 909.9,173.9C910.6,171.5 911.2,168.4 911.8,166.4C912.4,164.3 913.1,162.7 913.7,161.7C914.3,160.7 914.9,160.0 915.6,160.4C916.2,160.7 916.8,162.4 917.5,163.5C918.1,164.7 918.7,166.5 919.3,167.3C920.0,168.2 920.6,169.4 921.2,168.6C921.8,167.8 922.5,164.9 923.1,162.6C923.7,160.4 924.3,157.3 925.0,155.1C925.6,152.9 926.2,150.9 926.8,149.5C927.5,148.0 928.1,147.3 928.7,146.6C929.4,145.9 930.0,145.0 930.6,145.3C931.2,145.6 932.0,146.9 932.5,148.5C933.0,150.1 933.6,154.0 933.8,155.1"/>
<path stroke="#93AB37" d="M106.8,467.7C107.2,465.5 108.5,458.9 109.4,454.6C110.3,450.2 111.1,447.0 112.2,441.4C113.3,435.8 114.9,427.6 116.2,420.7C117.4,413.8 118.7,406.3 119.9,400.1C121.1,393.8 122.5,387.2 123.5,383.2C124.5,379.1 125.2,377.4 125.9,375.6C126.6,373.9 127.1,372.2 127.8,372.8C128.5,373.4 129.2,376.1 130.1,379.4C130.9,382.7 131.9,388.3 132.9,392.5C133.8,396.8 134.9,402.1 135.7,404.8C136.5,407.4 137.0,409.0 137.6,408.5C138.2,408.0 138.8,404.9 139.5,401.9C140.1,399.0 140.6,393.0 141.3,390.7C142.0,388.3 142.8,388.2 143.6,387.8C144.4,387.5 145.2,389.9 146.0,388.8C146.9,387.7 147.4,387.0 148.9,381.3C150.3,375.6 153.1,362.8 154.5,354.6C155.9,346.3 156.4,339.2 157.3,332.0C158.2,324.8 159.3,315.9 160.1,311.3C161.0,306.8 161.6,304.9 162.4,304.8C163.2,304.6 164.0,307.7 164.8,310.4C165.6,313.1 166.5,318.1 167.3,320.7C168.0,323.3 168.8,326.6 169.5,326.0C170.3,325.4 171.0,321.6 171.8,317.0C172.6,312.3 173.5,303.4 174.2,298.2C174.9,293.0 175.5,288.2 176.1,286.0C176.7,283.8 177.3,284.6 178.0,285.0C178.6,285.5 179.1,289.4 179.9,288.8C180.6,288.2 181.7,283.5 182.7,281.3C183.6,279.1 184.7,275.6 185.5,275.6C186.3,275.6 186.6,280.0 187.4,281.3C188.2,282.5 189.5,282.3 190.2,283.2C190.9,284.0 190.9,287.0 191.5,286.5C192.1,286.1 193.2,281.6 193.9,280.3C194.7,279.1 195.6,277.9 196.2,279.0C196.8,280.1 197.1,284.0 197.7,286.9C198.3,289.8 198.8,293.5 199.6,296.3C200.4,299.1 201.5,301.0 202.4,303.8C203.3,306.6 204.3,309.8 205.2,313.2C206.2,316.7 207.1,320.1 208.0,324.5C209.0,328.9 210.1,334.8 210.9,339.5C211.6,344.2 212.1,348.9 212.7,352.7C213.4,356.4 213.8,359.9 214.6,362.1C215.4,364.3 216.6,364.6 217.4,365.8C218.2,367.1 218.8,367.9 219.3,369.6C219.8,371.2 219.6,373.4 220.3,375.6C220.9,377.9 222.1,382.4 223.1,383.2C224.0,383.9 224.9,381.9 225.9,380.3C226.8,378.8 227.8,377.1 228.7,373.8C229.6,370.4 230.6,364.0 231.5,360.2C232.5,356.4 233.4,353.9 234.3,350.8C235.3,347.7 236.4,345.5 237.2,341.4C237.9,337.3 238.4,331.1 239.0,326.4C239.7,321.7 240.1,316.5 240.9,313.2C241.7,309.9 243.0,307.0 243.7,306.6C244.5,306.3 244.8,309.3 245.6,311.3C246.4,313.4 247.5,316.7 248.4,318.9C249.4,321.0 250.3,322.7 251.3,324.5C252.2,326.3 253.1,330.1 254.1,329.7C255.0,329.4 256.0,324.4 256.9,322.6C257.8,320.8 258.5,318.5 259.3,318.9C260.1,319.2 260.9,321.7 261.6,324.5C262.3,327.3 262.8,331.4 263.5,335.8C264.1,340.1 264.7,345.8 265.3,350.8C266.0,355.8 266.6,360.1 267.2,365.8C267.8,371.5 268.5,380.7 269.1,385.0C269.7,389.4 270.4,389.2 270.9,391.9C271.5,394.7 271.6,399.1 272.3,401.3C272.9,403.5 273.8,404.7 274.7,405.1C275.6,405.5 276.6,404.8 277.5,403.6C278.5,402.3 279.6,399.2 280.3,397.6C281.1,395.9 281.6,394.8 282.2,393.8C282.8,392.9 283.4,393.5 284.1,391.9C284.8,390.4 285.8,387.2 286.5,384.4C287.3,381.6 287.9,377.1 288.4,375.0C288.9,373.0 289.2,371.9 289.7,372.2C290.3,372.5 291.0,375.3 291.6,376.9C292.2,378.5 292.7,380.7 293.5,381.6C294.3,382.5 295.4,382.3 296.3,382.2C297.2,382.0 298.3,381.9 299.1,380.7C299.9,379.5 300.5,377.8 301.0,375.0C301.5,372.2 301.8,368.0 302.3,363.9C302.8,359.9 303.3,354.2 303.8,350.8C304.3,347.3 304.7,345.0 305.3,343.3C305.9,341.6 306.8,341.6 307.6,340.5C308.3,339.4 309.2,338.4 309.8,336.7C310.5,335.0 310.8,332.3 311.3,330.1C311.9,327.9 312.6,325.3 313.2,323.5C313.8,321.8 314.6,320.5 315.1,319.8C315.6,319.1 315.8,318.6 316.4,319.2C317.0,319.9 317.8,321.7 318.5,323.5C319.1,325.4 319.7,327.8 320.4,330.1C321.0,332.5 321.9,335.1 322.6,337.6C323.4,340.1 324.2,343.1 324.9,345.2C325.6,347.2 326.1,348.9 326.7,349.9C327.4,350.8 328.0,351.1 328.6,350.8C329.2,350.5 329.9,348.8 330.5,348.0C331.1,347.2 331.8,345.6 332.4,346.1C333.0,346.6 333.7,349.1 334.3,350.8C334.8,352.5 335.3,355.2 335.8,356.4C336.3,357.6 336.8,358.6 337.3,357.9C337.7,357.3 338.1,355.4 338.6,352.7C339.0,349.9 339.4,344.7 339.9,341.4C340.4,338.1 340.9,334.8 341.4,332.9C341.9,331.1 342.4,330.3 342.9,330.5C343.4,330.7 343.7,332.2 344.2,333.9C344.7,335.5 345.3,339.1 345.7,340.5C346.2,341.9 346.6,343.1 347.0,342.3C347.5,341.6 348.1,338.7 348.5,335.8C349.0,332.8 349.4,328.1 349.9,324.5C350.3,320.9 350.9,316.5 351.4,314.2C351.8,311.8 352.3,311.1 352.7,310.4C353.0,309.7 353.2,309.2 353.6,309.8C354.0,310.5 354.5,312.3 354.9,314.2C355.4,316.0 355.9,318.7 356.4,320.7C356.9,322.8 357.5,325.1 357.9,326.4C358.4,327.6 358.8,328.2 359.2,328.2C359.7,328.2 360.1,327.3 360.6,326.4C361.0,325.4 361.5,323.7 362.1,322.6C362.6,321.5 363.4,320.4 363.9,319.8C364.5,319.2 364.9,318.6 365.4,319.2C366.0,319.9 366.7,322.0 367.3,323.5C368.0,325.1 368.7,327.1 369.2,328.2C369.7,329.4 370.0,331.4 370.5,330.5C371.1,329.6 371.8,325.8 372.4,322.6C373.0,319.4 373.7,314.5 374.3,311.3C374.8,308.2 375.1,305.3 375.6,303.8C376.1,302.3 376.6,301.7 377.1,302.3C377.6,302.9 378.1,305.9 378.6,307.6C379.1,309.2 379.5,311.4 379.9,312.3C380.4,313.2 380.8,313.2 381.2,312.8C381.7,312.5 382.2,311.9 382.7,310.4C383.3,308.9 384.0,306.5 384.6,303.8C385.2,301.2 385.9,297.6 386.5,294.4C387.1,291.3 387.7,287.8 388.4,285.0C389.0,282.2 389.6,279.7 390.3,277.5C390.9,275.3 391.5,273.2 392.1,271.9C392.7,270.6 393.2,269.7 393.8,269.8C394.4,270.0 395.1,271.6 395.7,272.6C396.3,273.6 396.8,276.3 397.3,276.1C397.9,275.9 398.6,273.1 399.1,271.3C399.6,269.6 399.9,267.0 400.4,265.7C400.8,264.5 401.3,264.2 401.6,263.8C401.9,263.5 401.7,263.0 402.0,263.6C402.3,264.2 402.8,265.7 403.2,267.6C403.7,269.5 404.3,273.0 404.9,275.1C405.4,277.2 405.9,279.1 406.4,280.1C406.8,281.1 407.0,281.7 407.4,281.1C407.7,280.5 408.2,278.4 408.6,276.4C409.0,274.3 409.5,271.3 409.9,268.8C410.3,266.3 410.7,263.6 411.1,261.3C411.5,259.0 411.9,256.6 412.4,255.1C412.8,253.6 413.4,252.8 413.9,252.3C414.3,251.8 414.7,252.4 415.1,252.3C415.6,252.2 416.0,251.5 416.4,251.9C416.8,252.4 417.2,254.0 417.6,255.1C418.1,256.2 418.5,257.9 418.9,258.6C419.3,259.2 419.5,259.5 419.9,259.1C420.3,258.7 420.7,256.8 421.1,256.1C421.6,255.4 422.0,255.0 422.4,254.8C422.8,254.6 423.2,254.5 423.7,255.1C424.1,255.6 424.6,256.9 424.9,258.2C425.3,259.4 425.5,260.8 425.8,262.6C426.1,264.4 426.3,266.5 426.7,268.8C427.0,271.1 427.3,274.1 427.7,276.4C428.0,278.7 428.5,280.7 428.9,282.6C429.3,284.5 429.7,286.0 430.2,287.6C430.6,289.3 431.2,291.5 431.4,292.6C431.7,293.8 431.2,293.7 431.6,294.4C431.9,295.2 432.8,295.4 433.5,297.2C434.1,299.1 434.7,303.0 435.3,305.7C436.0,308.4 436.6,311.0 437.2,313.2C437.8,315.4 438.5,317.7 439.1,318.9C439.7,320.0 440.4,320.7 441.0,320.4C441.6,320.0 442.2,319.7 442.9,317.0C443.5,314.2 444.3,308.3 444.7,303.8C445.1,299.4 445.0,294.0 445.3,290.2C445.6,286.4 446.1,282.8 446.6,280.8C447.0,278.8 447.4,277.7 447.9,278.0C448.4,278.3 448.8,280.3 449.4,282.7C450.0,285.0 450.6,289.7 451.3,292.1C452.0,294.4 452.7,297.1 453.5,296.8C454.3,296.5 455.3,293.8 456.0,290.2C456.7,286.6 457.2,280.5 457.8,275.2C458.5,269.8 459.2,262.5 459.7,258.2C460.3,254.0 460.6,251.7 461.0,249.8C461.5,247.9 462.0,246.5 462.5,247.0C463.1,247.4 463.8,250.4 464.4,252.6C465.1,254.8 465.7,258.1 466.3,260.1C466.9,262.2 467.6,265.4 468.2,264.8C468.8,264.2 469.4,260.6 470.1,256.4C470.7,252.1 471.4,244.5 471.9,239.5C472.5,234.4 473.0,229.1 473.4,226.3C473.9,223.5 474.3,222.6 474.8,222.9C475.2,223.2 475.6,225.4 476.1,228.2C476.5,230.9 477.0,236.5 477.6,239.5C478.1,242.4 478.9,244.7 479.5,246.0C480.0,247.3 480.4,247.8 481.0,247.3C481.5,246.9 482.2,245.5 482.8,243.2C483.5,241.0 484.1,237.0 484.7,233.8C485.3,230.7 486.0,226.7 486.6,224.4C487.2,222.2 488.0,221.1 488.5,220.3C488.9,219.5 488.9,218.7 489.2,219.7C489.6,220.7 490.2,224.1 490.7,226.3C491.3,228.5 492.0,231.6 492.6,232.9C493.2,234.2 493.5,234.7 494.1,234.2C494.7,233.7 495.4,231.5 496.0,230.1C496.6,228.6 497.4,226.2 497.9,225.4C498.3,224.5 498.4,223.7 498.8,224.8C499.2,225.9 499.6,229.8 500.1,231.9C500.7,234.1 501.4,234.8 502.0,237.6C502.6,240.4 503.3,244.5 503.9,248.9C504.5,253.2 505.1,258.9 505.8,263.9C506.4,268.9 507.0,274.2 507.6,278.9C508.3,283.6 509.1,289.3 509.5,292.1C510.0,294.9 509.9,293.9 510.5,295.6C511.0,297.3 512.1,300.6 512.9,302.2C513.7,303.8 514.3,304.7 515.2,305.0C516.0,305.3 517.2,303.5 518.0,304.1C518.8,304.7 519.2,307.1 519.9,308.8C520.5,310.5 521.0,312.5 521.7,314.4C522.5,316.3 523.4,318.7 524.2,320.1C525.0,321.5 525.8,321.3 526.4,322.9C527.1,324.4 527.3,327.4 527.9,329.5C528.6,331.5 529.5,333.8 530.2,335.1C530.9,336.3 531.4,337.0 532.1,337.0C532.7,336.9 533.3,334.2 533.9,334.7C534.6,335.2 535.2,338.2 535.8,339.8C536.5,341.4 537.1,343.1 537.7,344.5C538.3,345.9 538.8,347.3 539.6,348.2C540.4,349.2 541.5,349.5 542.4,350.1C543.3,350.8 544.4,350.8 545.2,352.0C546.0,353.3 546.5,355.4 547.1,357.6C547.7,359.8 548.4,362.8 549.0,365.2C549.6,367.5 550.2,370.0 550.9,371.7C551.5,373.5 552.1,375.6 552.7,375.5C553.4,375.3 554.1,371.3 554.6,370.8C555.2,370.3 555.6,371.7 556.1,372.7C556.6,373.6 556.9,376.4 557.4,376.4C558.0,376.4 558.7,374.2 559.3,372.7C559.9,371.1 560.6,368.3 561.2,367.0C561.8,365.8 562.4,365.6 563.1,365.2C563.7,364.7 564.4,365.5 564.9,364.2C565.5,363.0 565.8,359.7 566.3,357.6C566.7,355.6 567.3,354.8 567.8,352.0C568.3,349.2 568.8,344.0 569.3,340.7C569.7,337.4 570.1,334.1 570.6,332.3C571.0,330.5 571.4,329.4 571.9,329.8C572.4,330.3 572.8,333.3 573.4,335.1C574.0,336.9 574.7,339.5 575.3,340.7C575.8,341.9 576.2,342.9 576.8,342.2C577.3,341.6 578.1,338.6 578.7,337.0C579.2,335.3 579.4,332.6 580.0,332.3C580.5,332.0 581.1,334.3 581.9,335.1C582.6,335.9 583.5,336.3 584.3,337.0C585.1,337.6 585.9,338.4 586.6,338.9C587.2,339.3 587.8,339.2 588.4,339.8C589.1,340.4 589.7,343.1 590.3,342.6C590.9,342.1 591.3,338.9 591.8,337.0C592.3,335.1 592.7,332.5 593.1,331.3C593.6,330.1 593.9,329.4 594.4,329.8C595.0,330.3 595.6,332.8 596.3,334.2C597.0,335.5 597.9,336.9 598.8,337.9C599.6,338.9 600.6,340.0 601.6,340.4C602.5,340.7 603.6,339.1 604.4,339.8C605.2,340.5 605.7,342.1 606.3,344.5C606.9,346.8 607.5,350.4 608.2,353.9C608.8,357.3 609.6,362.4 610.0,365.2C610.5,368.0 610.6,367.9 610.9,370.7C611.3,373.5 611.7,378.8 612.3,381.9C612.8,385.1 613.7,388.1 614.1,389.5C614.5,390.8 614.4,390.5 614.7,389.8C615.0,389.2 615.5,387.5 616.0,385.7C616.5,383.9 617.0,380.6 617.5,379.1C618.0,377.7 618.5,376.4 619.0,376.9C619.5,377.3 619.9,379.8 620.3,381.9C620.8,384.0 621.2,387.0 621.6,389.5C622.1,392.0 622.7,394.6 623.2,397.0C623.7,399.3 624.3,402.4 624.7,403.5C625.0,404.7 624.7,404.9 625.0,404.1C625.4,403.3 626.3,401.0 626.9,398.9C627.5,396.7 628.2,393.5 628.8,391.3C629.4,389.1 630.0,387.6 630.7,385.7C631.3,383.8 631.9,382.1 632.5,380.1C633.2,378.0 633.8,375.8 634.4,373.5C635.1,371.1 635.7,368.5 636.3,366.0C636.9,363.5 637.6,360.3 638.2,358.5C638.7,356.6 639.3,355.5 639.7,354.7C640.1,353.9 640.2,352.8 640.6,353.4C641.1,354.0 641.7,356.8 642.3,358.5C642.9,360.1 643.6,361.6 644.2,363.2C644.8,364.7 645.4,366.0 646.1,367.8C646.7,369.7 647.3,372.2 648.0,374.4C648.6,376.6 649.2,379.3 649.8,381.0C650.5,382.7 651.1,384.4 651.7,384.4C652.3,384.4 652.9,382.3 653.6,381.0C654.3,379.7 655.3,377.6 656.0,376.3C656.8,375.1 657.4,374.1 657.9,373.5C658.4,372.9 658.8,371.9 659.2,372.5C659.7,373.2 660.2,375.2 660.7,377.2C661.3,379.3 662.0,383.0 662.6,384.8C663.2,386.5 663.6,388.0 664.1,387.6C664.6,387.1 665.0,384.8 665.4,381.9C665.9,379.1 666.3,374.4 666.7,370.7C667.2,366.9 667.7,362.5 668.2,359.4C668.7,356.3 669.4,353.4 669.7,351.9C670.1,350.3 670.1,349.4 670.5,350.0C670.9,350.6 671.5,353.1 672.0,355.6C672.5,358.1 673.0,361.9 673.5,365.0C674.0,368.2 674.4,371.0 674.8,374.4C675.3,377.9 675.7,382.3 676.1,385.7C676.6,389.1 677.1,392.6 677.6,395.1C678.2,397.6 679.1,399.7 679.5,400.7C679.9,401.7 679.6,402.0 679.9,401.1C680.2,400.2 680.9,397.3 681.4,395.1C681.9,392.8 682.4,389.3 682.9,387.6C683.4,385.9 683.7,384.8 684.2,384.8C684.7,384.8 685.3,385.9 685.7,387.6C686.2,389.3 686.5,392.9 687.0,395.1C687.6,397.3 688.2,399.5 688.9,400.7C689.6,402.0 690.5,402.0 691.2,402.6C691.8,403.2 692.1,404.5 692.7,404.5C693.2,404.5 693.9,402.9 694.6,402.6C695.2,402.3 695.9,403.9 696.4,402.6C697.0,401.4 697.5,397.9 697.9,395.1C698.4,392.3 698.8,388.8 699.2,385.7C699.7,382.6 700.2,379.0 700.6,376.3C701.0,373.6 701.3,371.0 701.7,369.7C702.0,368.4 702.3,367.9 702.6,368.4C703.0,368.9 703.5,371.1 703.9,372.5C704.4,374.0 704.9,376.1 705.4,377.2C706.0,378.4 706.8,379.5 707.3,379.7C707.9,379.8 708.2,379.1 708.6,378.2C709.1,377.3 709.6,375.2 710.0,374.4C710.4,373.6 710.7,372.9 711.1,373.5C711.5,374.1 712.0,375.8 712.4,378.2C712.8,380.5 713.2,384.4 713.7,387.6C714.2,390.7 714.7,393.5 715.2,397.0C715.8,400.4 716.5,405.6 717.1,408.2C717.7,410.9 718.3,411.7 719.0,412.9C719.7,414.2 720.5,415.6 721.2,415.8C721.9,415.9 722.5,414.5 723.1,413.9C723.7,413.3 724.4,412.9 725.0,412.0C725.6,411.1 726.2,409.3 726.9,408.2C727.5,407.2 728.1,406.2 728.7,405.4C729.4,404.6 730.1,403.7 730.6,403.5C731.2,403.4 731.6,403.4 732.1,404.5C732.7,405.6 733.4,407.6 734.0,410.1C734.6,412.6 735.3,416.4 735.9,419.5C736.5,422.7 737.2,426.3 737.8,428.9C738.3,431.6 739.0,434.3 739.3,435.5C739.6,436.7 739.3,437.2 739.6,436.1C740.0,435.0 740.7,431.7 741.1,428.9C741.6,426.2 742.0,422.3 742.5,419.5C742.9,416.7 743.3,413.6 743.8,412.0C744.2,410.4 744.7,410.0 745.3,410.1C745.8,410.3 746.6,412.9 747.2,412.9C747.7,412.9 748.2,411.8 748.7,410.1C749.1,408.4 749.5,405.1 750.0,402.6C750.4,400.1 750.8,397.3 751.3,395.1C751.8,392.9 752.2,391.0 752.8,389.5C753.4,387.9 754.1,386.8 754.7,385.7C755.3,384.6 755.9,383.8 756.6,382.9C757.2,381.9 757.9,380.8 758.4,380.1C759.0,379.3 759.6,378.6 759.9,378.2C760.3,377.8 760.3,377.0 760.7,377.8C761.1,378.6 761.9,380.8 762.6,382.9C763.2,385.0 763.9,387.1 764.4,390.4C765.0,393.7 765.4,398.7 765.9,402.6C766.5,406.5 766.9,411.1 767.5,413.9C768.0,416.7 768.9,418.5 769.3,419.5C769.8,420.5 769.6,420.5 770.1,419.9C770.5,419.3 771.3,417.7 772.0,415.8C772.6,413.8 773.2,410.6 773.8,408.2C774.5,405.9 775.2,403.3 775.7,401.7C776.3,400.0 776.8,399.1 777.2,398.5C777.6,397.8 777.8,397.2 778.2,397.9C778.6,398.6 779.2,400.3 779.7,402.6C780.1,405.0 780.4,409.7 781.0,412.0C781.5,414.4 782.5,415.9 782.9,416.7C783.2,417.5 782.9,417.5 783.2,417.1C783.6,416.6 784.6,415.7 785.1,413.9C785.7,412.1 786.1,409.2 786.6,406.4C787.1,403.5 787.7,400.7 788.1,397.0C788.6,393.2 789.1,387.0 789.4,383.8C789.7,380.7 789.8,381.0 790.0,378.2C790.2,375.4 790.2,369.4 790.7,366.9C791.1,364.4 791.9,364.1 792.5,363.2C793.2,362.2 793.8,361.6 794.4,361.3C795.1,360.9 795.7,360.6 796.3,360.9C796.9,361.2 797.6,361.7 798.2,363.2C798.7,364.6 799.1,367.2 799.7,369.7C800.3,372.2 800.9,375.2 801.6,378.2C802.2,381.2 802.8,384.4 803.4,387.6C804.1,390.7 804.7,393.8 805.3,397.0C805.9,400.1 806.6,403.2 807.2,406.4C807.8,409.5 808.5,412.9 809.1,415.8C809.7,418.6 810.3,421.6 811.0,423.3C811.6,425.0 812.2,426.4 812.8,426.1C813.5,425.8 814.1,424.1 814.7,421.4C815.3,418.7 816.0,413.9 816.6,410.1C817.2,406.4 817.8,401.5 818.5,398.9C819.1,396.2 819.8,395.1 820.4,394.2C820.9,393.2 821.1,392.6 821.7,393.2C822.2,393.8 823.0,396.8 823.5,397.9C824.1,399.0 824.4,400.3 824.9,399.8C825.3,399.3 825.9,397.4 826.4,395.1C826.9,392.7 827.5,387.2 827.9,385.7C828.2,384.2 828.2,387.7 828.6,385.8C829.0,384.0 829.6,378.0 830.1,374.6C830.6,371.1 831.1,367.7 831.6,365.2C832.2,362.7 832.9,360.8 833.5,359.5C834.1,358.2 834.9,357.7 835.4,357.3C835.9,356.8 836.2,356.0 836.7,356.7C837.2,357.4 838.0,359.7 838.6,361.4C839.2,363.1 839.8,365.5 840.5,367.0C841.1,368.6 841.7,370.0 842.3,370.8C843.0,371.6 843.4,372.0 844.2,371.7C845.0,371.4 846.3,370.0 847.0,368.9C847.8,367.8 848.3,366.7 848.9,365.2C849.5,363.6 850.2,361.6 850.8,359.5C851.4,357.5 852.0,355.4 852.7,352.9C853.3,350.4 854.0,347.5 854.6,344.5C855.1,341.5 855.6,338.2 856.1,335.1C856.5,332.0 856.8,328.2 857.4,325.7C857.9,323.2 858.6,321.3 859.2,320.1C859.9,318.8 860.5,319.0 861.1,318.2C861.8,317.4 862.4,316.1 863.0,315.4C863.6,314.6 864.5,313.9 864.9,313.5C865.3,313.1 865.1,312.3 865.4,313.1C865.8,313.9 866.3,315.8 866.8,318.2C867.2,320.6 867.6,324.8 868.1,327.6C868.5,330.4 869.2,333.6 869.6,335.1C870.0,336.6 870.1,337.2 870.5,336.6C870.9,336.0 871.4,333.5 871.8,331.3C872.3,329.2 872.8,325.9 873.3,323.8C873.9,321.8 874.6,320.2 875.2,319.1C875.8,318.0 876.5,317.2 877.1,317.2C877.7,317.2 878.4,317.9 879.0,319.1C879.6,320.4 880.3,322.4 880.9,324.8C881.4,327.1 881.9,330.6 882.4,333.2C882.8,335.9 883.2,338.5 883.7,340.7C884.1,342.9 884.5,344.9 885.0,346.4C885.5,347.9 885.9,349.7 886.5,349.7C887.1,349.7 888.1,347.9 888.7,346.4C889.4,344.9 889.7,342.6 890.3,340.7C890.8,338.9 891.3,336.4 891.8,335.1C892.2,333.8 892.6,332.5 893.1,332.8C893.5,333.2 893.9,335.0 894.4,337.0C894.9,338.9 895.4,342.0 895.9,344.5C896.4,347.0 896.8,349.5 897.4,352.0C898.0,354.5 898.6,357.8 899.3,359.5C899.9,361.2 900.5,362.2 901.1,362.3C901.8,362.5 902.7,361.2 903.4,360.5C904.1,359.7 904.7,358.4 905.3,357.6C905.9,356.9 906.5,356.4 907.2,355.8C907.8,355.1 908.5,355.1 909.0,353.9C909.6,352.6 910.1,350.4 910.5,348.2C911.0,346.1 911.4,343.2 911.9,340.7C912.3,338.2 912.7,334.9 913.2,333.2C913.6,331.5 914.2,329.8 914.7,330.4C915.2,331.0 915.7,334.0 916.2,337.0C916.6,339.9 917.1,344.8 917.5,348.2C917.9,351.7 918.3,355.3 918.8,357.6C919.3,360.0 919.8,362.7 920.3,362.3C920.8,362.0 921.3,358.4 921.8,355.8C922.3,353.1 922.7,349.0 923.1,346.4C923.6,343.7 924.0,341.3 924.4,339.8C924.9,338.3 925.4,337.3 925.9,337.3C926.5,337.3 927.3,338.8 927.8,339.8C928.4,340.8 928.8,342.6 929.3,343.5C929.9,344.5 930.5,345.3 931.2,345.4C931.9,345.6 932.8,345.1 933.5,344.5C934.2,343.9 935.0,342.3 935.3,341.7C935.7,341.0 935.7,340.9 935.7,340.7"/>
<path stroke="#D65E33" d="M106.8,467.7C107.5,464.6 110.1,454.2 111.3,448.9C112.5,443.6 113.5,438.1 114.1,435.8C114.7,433.4 114.4,433.3 115.0,434.8C115.7,436.4 117.1,443.1 117.8,445.2C118.6,447.2 118.9,450.2 119.7,447.0C120.5,443.9 121.8,433.6 122.5,426.4C123.3,419.2 123.8,409.8 124.4,403.8C125.1,397.9 125.7,393.2 126.3,390.7C126.9,388.1 127.4,387.8 128.2,388.4C129.0,389.0 130.1,391.7 131.0,394.4C131.9,397.2 133.2,402.7 133.8,404.8C134.4,406.8 134.1,408.7 134.8,406.6C135.4,404.6 136.6,397.2 137.6,392.5C138.5,387.8 139.5,381.5 140.4,378.5C141.3,375.4 142.3,373.4 143.2,374.1C144.2,374.9 145.1,379.1 146.0,383.2C147.0,387.2 147.9,394.3 148.9,398.2C149.8,402.1 151.0,405.1 151.7,406.6C152.3,408.1 152.0,407.8 152.6,407.2C153.2,406.6 154.5,404.7 155.4,402.9C156.4,401.1 157.3,399.1 158.2,396.3C159.2,393.5 160.1,389.7 161.1,386.0C162.0,382.3 163.4,376.2 163.9,374.1C164.4,372.0 163.8,371.9 164.3,373.4C164.7,374.9 165.8,379.3 166.7,383.2C167.6,387.0 168.7,393.5 169.5,396.3C170.3,399.1 170.6,400.1 171.4,400.1C172.2,400.1 173.3,398.5 174.2,396.3C175.2,394.1 176.2,389.5 177.0,386.9C177.9,384.3 178.5,380.7 179.3,380.9C180.1,381.1 181.1,386.4 181.7,387.8C182.4,389.3 182.4,390.0 183.0,389.7C183.7,389.4 184.6,388.3 185.5,386.0C186.4,383.6 187.6,377.6 188.3,375.6C189.0,373.7 189.2,373.2 189.8,374.1C190.4,375.1 191.2,378.7 192.1,381.3C192.9,383.9 194.2,388.1 194.9,389.7C195.6,391.4 195.7,391.5 196.2,391.0C196.7,390.6 197.1,389.5 197.7,386.9C198.3,384.3 199.1,380.1 199.6,375.6C200.1,371.2 200.2,365.3 200.5,360.2C200.8,355.1 201.1,350.2 201.5,345.2C201.9,340.1 202.4,333.4 203.0,330.1C203.5,326.8 204.2,325.4 204.8,325.4C205.5,325.4 206.4,327.8 207.1,330.1C207.8,332.5 208.3,336.7 209.0,339.5C209.7,342.3 210.4,345.0 211.2,347.0C212.0,349.1 213.0,352.7 213.7,351.7C214.4,350.8 214.9,345.6 215.6,341.4C216.2,337.2 216.9,330.1 217.4,326.4C218.0,322.6 218.3,320.6 218.7,318.9C219.2,317.1 219.7,315.7 220.3,316.0C220.8,316.3 221.4,319.5 222.1,320.7C222.8,322.0 223.7,321.4 224.4,323.5C225.1,325.7 225.6,329.7 226.3,333.9C226.9,338.1 227.5,344.5 228.1,348.9C228.8,353.3 229.3,357.2 230.0,360.2C230.7,363.2 231.6,365.8 232.5,366.8C233.3,367.7 234.3,366.5 235.3,365.8C236.2,365.2 237.3,364.9 238.1,363.0C238.9,361.1 239.4,357.5 240.0,354.6C240.6,351.6 241.2,348.3 241.9,345.2C242.5,342.0 243.1,338.0 243.7,335.8C244.4,333.6 245.0,331.4 245.6,332.0C246.2,332.6 246.9,336.4 247.5,339.5C248.1,342.7 248.7,347.0 249.4,350.8C250.0,354.6 250.6,359.2 251.3,362.1C251.9,364.9 252.3,366.1 253.1,367.7C253.9,369.3 254.9,368.9 255.9,371.5C257.0,374.0 258.5,380.3 259.7,383.2C261.0,386.0 262.4,386.3 263.5,388.8C264.6,391.3 265.3,394.7 266.3,398.2C267.2,401.6 268.5,407.4 269.1,409.5C269.7,411.5 269.5,409.6 270.0,410.7C270.5,411.9 271.3,415.2 271.9,416.4C272.4,417.6 272.8,418.5 273.4,417.9C273.9,417.2 274.6,415.4 275.3,412.6C275.9,409.9 276.5,405.1 277.1,401.3C277.8,397.6 278.4,392.9 279.0,390.1C279.6,387.2 280.4,385.5 280.9,384.4C281.4,383.3 281.7,382.5 282.2,383.5C282.7,384.4 283.5,387.7 284.1,390.1C284.7,392.4 285.3,395.2 286.0,397.6C286.6,399.9 287.1,402.7 287.8,404.2C288.6,405.7 289.6,407.1 290.3,406.6C291.0,406.1 291.5,403.2 292.2,401.3C292.8,399.5 293.5,396.8 294.1,395.7C294.6,394.6 294.8,393.5 295.4,394.8C295.9,396.0 296.6,400.6 297.2,403.2C297.9,405.9 298.6,409.2 299.1,410.7C299.7,412.3 300.1,413.2 300.6,412.6C301.2,412.0 301.7,409.0 302.3,407.0C302.9,404.9 303.6,402.6 304.2,400.4C304.8,398.2 305.5,395.1 306.1,393.8C306.6,392.6 307.0,392.3 307.6,392.9C308.1,393.5 308.8,395.5 309.5,397.6C310.1,399.6 310.6,402.7 311.3,405.1C312.0,407.4 312.8,409.9 313.6,411.7C314.4,413.4 315.3,415.1 316.0,415.4C316.8,415.7 317.3,414.6 317.9,413.5C318.5,412.5 319.1,410.9 319.8,408.9C320.5,406.8 321.5,404.2 322.2,401.3C323.0,398.5 323.5,394.6 324.1,391.9C324.7,389.3 325.5,386.7 326.0,385.4C326.5,384.1 326.8,383.6 327.3,384.1C327.8,384.5 328.6,386.6 329.2,388.2C329.8,389.8 330.4,393.0 331.1,393.8C331.7,394.6 332.3,393.4 332.9,392.9C333.6,392.4 334.2,390.5 334.8,391.0C335.4,391.5 336.1,393.8 336.7,395.7C337.3,397.6 338.0,400.9 338.6,402.3C339.2,403.7 339.8,404.6 340.5,404.2C341.1,403.7 341.7,401.6 342.3,399.5C343.0,397.3 343.6,393.0 344.2,391.0C344.8,389.0 345.5,388.2 346.1,387.2C346.7,386.3 347.3,386.1 348.0,385.4C348.6,384.6 349.3,386.1 349.9,382.5C350.4,379.0 350.7,369.2 351.2,363.9C351.6,358.7 352.2,354.9 352.7,350.8C353.2,346.7 353.6,342.3 354.2,339.5C354.7,336.7 355.4,335.3 356.1,333.9C356.7,332.5 357.6,331.9 358.3,331.1C359.0,330.2 359.8,329.1 360.2,328.6C360.6,328.2 360.4,327.4 360.8,328.2C361.1,329.1 361.8,332.0 362.4,333.9C363.0,335.8 363.8,338.2 364.3,339.5C364.9,340.8 365.3,341.8 365.8,341.8C366.4,341.8 366.9,340.5 367.7,339.5C368.5,338.5 369.6,337.3 370.5,335.8C371.4,334.2 372.2,332.2 373.0,330.1C373.7,328.1 374.2,325.4 374.8,323.5C375.5,321.7 376.1,320.1 376.7,319.2C377.3,318.4 378.0,319.8 378.6,318.5C379.2,317.2 379.9,313.8 380.5,311.3C381.1,308.9 381.7,306.6 382.4,303.8C383.0,301.0 383.7,296.9 384.2,294.4C384.8,291.9 385.3,290.0 385.7,288.8C386.2,287.6 386.4,287.0 386.9,287.3C387.3,287.6 387.9,288.5 388.4,290.7C388.9,292.8 389.4,296.0 389.9,300.1C390.3,304.1 390.8,309.8 391.2,315.1C391.6,320.4 392.1,326.4 392.5,332.0C392.9,337.6 393.2,343.9 393.6,348.9C394.0,353.9 394.5,359.0 394.9,362.1C395.4,365.1 395.8,367.6 396.3,367.3C396.7,367.0 397.3,363.9 397.8,360.2C398.3,356.5 398.8,349.5 399.3,345.2C399.7,340.8 400.1,336.7 400.6,333.9C401.1,331.1 401.6,329.2 402.1,328.2C402.6,327.2 402.9,327.4 403.4,327.9C403.9,328.3 404.7,330.6 405.3,331.1C405.9,331.5 406.6,329.9 407.2,330.5C407.7,331.1 408.1,333.6 408.7,334.8C409.2,336.0 410.0,336.4 410.5,337.6C411.1,338.9 411.3,341.1 411.9,342.3C412.4,343.6 413.1,345.3 413.7,345.2C414.4,345.0 415.0,341.7 415.6,341.4C416.2,341.1 416.9,342.3 417.5,343.3C418.1,344.2 418.7,345.5 419.4,347.0C420.0,348.6 420.6,350.8 421.3,352.7C421.9,354.6 422.5,356.9 423.1,358.3C423.8,359.7 424.3,361.1 425.0,361.1C425.7,361.1 426.7,358.9 427.5,358.3C428.2,357.7 429.0,358.3 429.7,357.4C430.4,356.4 431.0,354.7 431.6,352.7C432.2,350.6 432.8,347.3 433.5,345.2C434.1,343.0 434.7,341.2 435.3,339.5C436.0,337.8 436.6,336.4 437.2,334.8C437.8,333.3 438.5,331.4 439.1,330.1C439.7,328.9 440.4,327.5 441.0,327.3C441.6,327.2 442.2,329.7 442.9,329.2C443.5,328.7 444.1,326.5 444.7,324.5C445.4,322.5 446.0,318.6 446.6,317.0C447.2,315.3 447.9,315.0 448.5,314.7C449.1,314.4 449.7,313.9 450.0,315.1C450.3,316.3 450.1,318.6 450.3,321.9C450.6,325.3 451.2,330.7 451.6,335.1C452.1,339.5 452.6,345.1 453.2,348.2C453.7,351.4 454.5,354.2 455.0,353.9C455.6,353.6 456.1,349.2 456.5,346.4C457.0,343.5 457.4,339.6 457.8,337.0C458.3,334.3 458.6,331.8 459.2,330.4C459.7,329.0 460.4,328.5 461.0,328.5C461.7,328.5 462.3,329.8 462.9,330.4C463.5,331.0 464.2,332.4 464.8,332.3C465.4,332.1 466.1,331.2 466.7,329.5C467.3,327.7 467.9,324.1 468.6,321.9C469.2,319.7 469.8,318.2 470.4,316.3C471.1,314.4 471.7,312.4 472.3,310.7C472.9,308.9 473.6,307.0 474.2,306.0C474.8,305.0 475.1,304.5 475.7,304.7C476.3,304.8 476.9,306.2 477.6,306.9C478.3,307.6 479.1,307.7 479.8,308.8C480.5,309.9 481.1,311.6 481.7,313.5C482.3,315.4 483.0,317.4 483.6,320.1C484.2,322.7 484.8,326.6 485.5,329.5C486.1,332.3 486.7,334.5 487.3,337.0C488.0,339.5 488.6,342.5 489.2,344.5C489.9,346.5 490.5,348.2 491.1,349.2C491.7,350.2 492.0,351.3 492.6,350.5C493.2,349.7 493.9,346.3 494.5,344.5C495.1,342.7 495.7,340.9 496.4,339.8C497.1,338.7 497.9,338.5 498.6,337.9C499.3,337.3 499.8,336.5 500.5,336.0C501.2,335.6 502.2,335.6 502.9,335.1C503.7,334.6 504.4,333.2 504.8,332.8C505.2,332.4 505.0,332.0 505.4,332.7C505.8,333.3 506.6,335.6 507.3,337.0C507.9,338.3 508.5,338.9 509.1,340.7C509.8,342.6 510.4,345.4 511.0,348.2C511.6,351.1 512.3,354.5 512.9,357.6C513.5,360.8 514.2,364.2 514.8,367.0C515.4,369.9 516.0,372.4 516.7,374.6C517.3,376.7 517.9,377.7 518.5,380.2C519.2,382.7 520.0,388.0 520.4,389.6C520.8,391.1 520.4,387.9 520.8,389.5C521.2,391.0 522.1,396.8 522.7,398.9C523.2,400.9 523.5,402.0 524.0,401.7C524.5,401.4 525.0,399.9 525.5,397.0C526.0,394.0 526.3,388.0 526.8,383.9C527.3,379.9 527.7,375.5 528.3,372.7C528.9,369.9 529.5,368.4 530.2,367.0C530.9,365.6 531.7,365.0 532.4,364.2C533.2,363.4 534.2,362.8 534.9,362.3C535.6,361.9 536.1,361.6 536.8,361.4C537.4,361.2 538.0,362.3 538.6,361.4C539.3,360.5 539.9,358.3 540.5,355.8C541.1,353.3 541.9,348.7 542.4,346.4C542.9,344.0 543.3,342.6 543.7,341.7C544.1,340.7 544.3,339.9 544.8,340.7C545.3,341.5 546.1,344.0 546.7,346.4C547.3,348.7 547.9,352.5 548.6,354.8C549.3,357.2 550.1,359.4 550.9,360.5C551.6,361.6 552.4,361.4 553.1,361.4C553.8,361.4 554.4,361.4 555.0,360.5C555.6,359.5 556.2,357.5 556.9,355.8C557.5,354.0 558.2,351.2 558.7,350.1C559.3,349.0 559.7,348.7 560.3,349.2C560.8,349.7 561.4,351.8 562.1,352.9C562.8,354.0 563.6,354.7 564.4,355.8C565.2,356.9 566.1,358.0 566.8,359.5C567.5,361.1 568.1,362.7 568.7,365.2C569.3,367.7 570.0,371.4 570.6,374.6C571.2,377.7 571.8,381.3 572.5,383.9C573.1,386.6 573.8,389.3 574.3,390.5C574.9,391.8 575.2,392.2 575.7,391.5C576.1,390.7 576.6,388.3 577.2,385.8C577.7,383.3 578.4,379.2 579.0,376.4C579.7,373.6 580.4,370.4 580.9,368.9C581.5,367.4 582.0,366.8 582.4,367.4C582.9,368.0 583.2,370.5 583.7,372.7C584.3,374.8 585.0,377.1 585.6,380.2C586.2,383.3 587.0,389.0 587.5,391.5C588.0,393.9 588.3,395.1 588.8,395.1C589.3,395.1 590.1,392.4 590.7,391.3C591.3,390.2 592.2,389.1 592.6,388.5C593.0,388.0 592.7,387.5 593.1,388.1C593.5,388.8 594.4,390.8 595.0,392.3C595.6,393.7 596.2,395.8 596.9,397.0C597.6,398.1 598.6,399.9 599.3,399.2C600.1,398.6 600.6,395.8 601.2,393.2C601.8,390.6 602.5,386.6 603.1,383.8C603.7,381.0 604.4,377.9 605.0,376.3C605.5,374.7 605.8,374.1 606.3,374.4C606.8,374.7 607.5,376.9 608.2,378.2C608.8,379.5 609.4,382.7 610.0,382.1C610.6,381.5 611.3,377.4 611.9,374.6C612.5,371.7 613.1,368.3 613.8,365.2C614.4,362.0 615.0,358.9 615.6,355.8C616.3,352.6 616.9,349.2 617.5,346.4C618.1,343.5 618.8,341.7 619.4,338.9C620.0,336.0 620.6,332.9 621.3,329.5C621.9,326.0 622.5,321.9 623.2,318.2C623.8,314.4 624.4,309.6 625.0,306.9C625.7,304.2 626.4,303.1 626.9,302.2C627.4,301.3 627.4,300.9 627.8,301.6C628.3,302.4 629.1,304.9 629.7,306.9C630.4,308.9 631.0,311.9 631.6,313.5C632.2,315.1 632.9,314.9 633.5,316.3C634.1,317.7 634.7,320.5 635.4,321.9C636.0,323.4 636.6,324.6 637.2,324.8C637.9,324.9 638.3,323.4 639.1,322.9C639.9,322.4 641.0,322.3 641.9,321.9C642.9,321.6 644.0,321.9 644.8,321.0C645.5,320.1 646.0,317.3 646.6,316.3C647.3,315.3 648.0,313.9 648.5,314.8C649.1,315.7 649.4,318.9 649.8,321.9C650.3,325.0 650.8,329.9 651.3,333.2C651.9,336.5 652.7,339.9 653.2,341.7C653.8,343.4 654.2,344.3 654.7,343.5C655.2,342.8 655.6,339.2 656.0,337.0C656.5,334.8 656.8,331.8 657.3,330.4C657.9,329.0 658.6,329.5 659.2,328.5C659.9,327.6 660.5,326.8 661.1,324.8C661.7,322.7 662.1,319.3 662.6,316.3C663.1,313.3 663.5,309.3 664.1,306.9C664.7,304.6 665.4,303.1 666.0,302.2C666.6,301.3 667.2,300.9 667.9,301.6C668.5,302.4 669.1,305.7 669.7,306.9C670.4,308.1 670.9,308.9 671.6,308.8C672.3,308.6 673.1,306.8 673.9,306.0C674.6,305.1 675.4,303.7 676.1,303.5C676.9,303.4 677.8,304.9 678.6,305.0C679.4,305.1 680.3,305.0 681.0,304.1C681.7,303.2 682.3,300.6 682.9,299.4C683.5,298.1 684.3,297.1 684.8,296.6C685.2,296.0 685.1,295.6 685.5,296.2C686.0,296.8 686.8,298.9 687.4,300.3C688.0,301.8 688.6,303.9 689.3,305.0C690.0,306.1 691.0,306.8 691.7,306.9C692.5,307.1 693.0,305.7 693.6,306.0C694.2,306.3 694.9,308.8 695.5,308.8C696.1,308.8 696.7,307.2 697.4,306.0C698.0,304.7 698.6,302.7 699.2,301.3C699.9,299.8 700.6,297.9 701.1,297.1C701.7,296.4 701.9,296.0 702.4,296.6C703.0,297.1 703.7,299.2 704.3,300.3C704.9,301.4 705.6,302.7 706.2,303.2C706.8,303.6 707.1,303.7 707.7,302.8C708.3,301.8 708.9,299.3 709.6,297.5C710.3,295.7 711.2,293.4 712.0,291.9C712.8,290.3 713.7,288.1 714.3,288.3C714.9,288.6 715.4,291.2 715.8,293.4C716.2,295.5 716.3,298.4 716.5,301.3C716.8,304.2 717.1,307.8 717.5,310.7C717.9,313.5 718.4,315.7 719.0,318.2C719.5,320.7 720.2,324.1 720.9,325.7C721.5,327.3 722.0,327.6 722.7,327.6C723.4,327.6 724.3,325.7 725.0,325.7C725.7,325.7 726.2,326.3 726.9,327.6C727.5,328.8 728.1,331.6 728.7,333.2C729.4,334.8 730.1,336.0 730.6,337.0C731.2,337.9 731.6,339.0 732.1,338.9C732.7,338.7 733.3,336.7 734.0,336.0C734.7,335.3 735.6,334.2 736.3,334.7C737.0,335.2 737.6,336.6 738.1,338.9C738.7,341.1 739.1,345.1 739.6,348.2C740.1,351.4 740.7,355.0 741.1,357.6C741.6,360.3 741.9,363.0 742.5,364.2C743.0,365.5 743.6,365.2 744.3,365.2C745.1,365.2 746.1,363.6 746.8,364.2C747.5,364.8 748.0,367.2 748.7,368.9C749.3,370.6 749.9,372.7 750.5,374.6C751.2,376.4 751.7,378.6 752.4,380.2C753.1,381.8 754.0,383.0 754.7,383.9C755.4,384.9 755.9,384.6 756.6,385.8C757.2,387.1 757.9,389.6 758.4,391.5C759.0,393.3 759.5,394.5 759.9,397.0C760.4,399.5 760.8,403.2 761.3,406.4C761.7,409.5 762.1,413.3 762.6,415.8C763.0,418.3 763.7,420.4 764.1,421.4C764.4,422.4 764.3,422.9 764.6,422.0C765.0,421.0 765.7,418.0 766.3,415.8C766.9,413.5 767.6,409.8 768.2,408.2C768.8,406.7 769.4,407.9 770.0,406.4C770.6,404.8 771.3,401.7 771.9,398.9C772.5,396.0 773.1,392.1 773.8,389.5C774.4,386.8 775.0,384.3 775.6,382.9C776.3,381.5 776.9,380.8 777.5,381.0C778.1,381.2 778.7,383.2 779.4,383.8C780.1,384.4 781.0,384.4 781.6,384.8C782.3,385.1 782.9,384.8 783.5,385.7C784.2,386.6 784.8,388.5 785.4,390.4C786.0,392.3 786.7,394.9 787.3,397.0C787.9,399.0 788.5,401.2 789.2,402.6C789.8,404.0 790.5,405.7 791.0,405.4C791.6,405.1 792.0,403.4 792.5,400.7C793.0,398.1 793.6,392.9 794.1,389.5C794.5,386.0 794.9,382.4 795.4,380.1C795.8,377.7 796.3,376.3 796.7,375.4C797.1,374.4 797.4,373.8 797.8,374.4C798.2,375.1 798.6,377.1 799.1,379.1C799.7,381.2 800.4,384.4 801.0,386.6C801.6,388.8 802.3,391.0 802.9,392.3C803.5,393.5 804.1,394.3 804.8,394.2C805.4,394.0 806.0,392.0 806.6,391.3C807.3,390.7 808.0,389.8 808.5,390.4C809.1,391.0 809.3,393.1 809.8,395.1C810.4,397.1 811.1,400.1 811.7,402.6C812.3,405.1 813.0,408.1 813.6,410.1C814.2,412.2 815.1,414.0 815.5,414.8C815.9,415.7 815.6,416.3 816.0,415.2C816.4,414.1 817.3,410.7 817.9,408.2C818.5,405.8 819.2,402.9 819.8,400.7C820.4,398.5 821.0,396.7 821.7,395.1C822.3,393.5 823.0,393.2 823.5,391.3C824.1,389.5 824.4,386.3 824.9,383.8C825.3,381.3 825.8,378.5 826.4,376.3C826.9,374.1 827.6,372.0 828.2,370.7C828.9,369.4 829.6,368.8 830.1,368.4C830.7,368.0 831.1,367.7 831.6,368.4C832.2,369.1 832.9,370.6 833.5,372.5C834.1,374.5 834.8,377.2 835.4,380.1C836.0,382.9 836.6,386.6 837.3,389.5C837.9,392.3 838.6,395.3 839.1,397.0C839.7,398.6 839.9,399.9 840.5,399.2C841.0,398.6 841.8,395.5 842.3,393.2C842.9,391.0 843.2,388.2 843.7,385.7C844.1,383.2 844.7,380.1 845.2,378.2C845.7,376.2 846.3,374.8 846.7,374.1C847.0,373.3 846.7,373.2 847.0,373.9C847.3,374.6 848.0,376.8 848.5,378.2C849.1,379.5 849.7,381.3 850.4,381.9C851.1,382.6 852.0,382.2 852.7,381.9C853.4,381.7 853.9,380.4 854.6,380.4C855.2,380.4 855.8,380.8 856.4,381.9C857.1,383.1 857.7,385.7 858.3,387.6C858.9,389.5 859.7,392.0 860.2,393.2C860.7,394.4 860.8,395.7 861.1,394.7C861.5,393.8 862.0,391.0 862.4,387.6C862.9,384.2 863.4,378.3 863.9,374.4C864.4,370.5 865.0,366.3 865.4,364.1C865.9,361.8 866.5,361.5 866.8,360.9C867.1,360.3 867.0,359.9 867.3,360.7C867.6,361.6 868.2,363.1 868.6,366.0C869.1,368.9 869.5,374.3 870.0,378.2C870.4,382.1 871.0,386.2 871.5,389.5C872.0,392.7 872.5,396.1 873.0,397.9C873.4,399.7 873.7,400.5 874.3,400.4C874.8,400.2 875.4,397.5 876.2,397.0C876.9,396.5 877.8,397.1 878.6,397.3C879.4,397.6 880.2,399.5 880.9,398.5C881.5,397.5 881.9,394.4 882.4,391.3C882.9,388.3 883.3,383.7 883.9,380.1C884.4,376.5 885.0,372.9 885.6,369.7C886.1,366.6 886.8,363.6 887.4,361.3C888.1,358.9 888.7,357.0 889.3,355.6C889.9,354.2 890.6,352.7 891.2,352.8C891.8,353.0 892.4,354.9 893.1,356.6C893.7,358.3 894.3,361.3 894.9,363.2C895.6,365.0 896.2,366.3 896.8,367.8C897.5,369.4 898.2,370.8 898.7,372.5C899.2,374.3 899.6,376.9 900.0,378.2C900.4,379.4 900.7,380.4 901.1,380.1C901.6,379.7 902.1,378.0 902.5,376.3C902.8,374.6 903.1,371.6 903.4,369.7C903.7,367.8 904.2,365.8 904.3,365.0"/>
</g>
<g stroke="#000" stroke-width="1.85" fill="none">
<rect x="106.44" y="52.05" width="831.8" height="415.9"/>
<path d="M144.0,467.95v-5.2M144.0,52.05v5.2M181.4,467.95v-5.2M181.4,52.05v5.2M218.9,467.95v-5.2M218.9,52.05v5.2M256.4,467.95v-8.7M256.4,52.05v8.7M293.8,467.95v-5.2M293.8,52.05v5.2M331.3,467.95v-5.2M331.3,52.05v5.2M368.7,467.95v-5.2M368.7,52.05v5.2M406.2,467.95v-8.7M406.2,52.05v8.7M443.7,467.95v-5.2M443.7,52.05v5.2M481.1,467.95v-5.2M481.1,52.05v5.2M518.6,467.95v-5.2M518.6,52.05v5.2M556.1,467.95v-8.7M556.1,52.05v8.7M593.5,467.95v-5.2M593.5,52.05v5.2M631.0,467.95v-5.2M631.0,52.05v5.2M668.4,467.95v-5.2M668.4,52.05v5.2M705.9,467.95v-8.7M705.9,52.05v8.7M743.4,467.95v-5.2M743.4,52.05v5.2M780.8,467.95v-5.2M780.8,52.05v5.2M818.3,467.95v-5.2M818.3,52.05v5.2M855.8,467.95v-8.7M855.8,52.05v8.7M893.2,467.95v-5.2M893.2,52.05v5.2M930.7,467.95v-5.2M930.7,52.05v5.2M106.44,445.1h5.2M938.2,445.1h-5.2M106.44,422.0h5.2M938.2,422.0h-5.2M106.44,398.8h5.2M938.2,398.8h-5.2M106.44,375.7h8.7M938.2,375.7h-8.7M106.44,352.6h5.2M938.2,352.6h-5.2M106.44,329.5h5.2M938.2,329.5h-5.2M106.44,306.4h5.2M938.2,306.4h-5.2M106.44,283.3h8.7M938.2,283.3h-8.7M106.44,260.2h5.2M938.2,260.2h-5.2M106.44,237.1h5.2M938.2,237.1h-5.2M106.44,214.0h5.2M938.2,214.0h-5.2M106.44,190.9h8.7M938.2,190.9h-8.7M106.44,167.8h5.2M938.2,167.8h-5.2M106.44,144.7h5.2M938.2,144.7h-5.2M106.44,121.6h5.2M938.2,121.6h-5.2M106.44,98.5h8.7M938.2,98.5h-8.7M106.44,75.3h5.2M938.2,75.3h-5.2"/>
<rect x="1095.16" y="52.2" width="673.8" height="416.6"/>
<path d="M1119.2,468.75v-4.6M1119.2,52.2v4.8M1143.3,468.75v-11.2M1143.3,52.2v8.3M1167.4,468.75v-4.6M1167.4,52.2v4.8M1191.4,468.75v-4.6M1191.4,52.2v4.8M1215.5,468.75v-4.6M1215.5,52.2v4.8M1239.6,468.75v-4.6M1239.6,52.2v4.8M1263.6,468.75v-11.2M1263.6,52.2v8.3M1287.7,468.75v-4.6M1287.7,52.2v4.8M1311.8,468.75v-4.6M1311.8,52.2v4.8M1335.8,468.75v-4.6M1335.8,52.2v4.8M1359.9,468.75v-4.6M1359.9,52.2v4.8M1384.0,468.75v-11.2M1384.0,52.2v8.3M1408.0,468.75v-4.6M1408.0,52.2v4.8M1432.1,468.75v-4.6M1432.1,52.2v4.8M1456.2,468.75v-4.6M1456.2,52.2v4.8M1480.3,468.75v-4.6M1480.3,52.2v4.8M1504.3,468.75v-11.2M1504.3,52.2v8.3M1528.4,468.75v-4.6M1528.4,52.2v4.8M1552.5,468.75v-4.6M1552.5,52.2v4.8M1576.5,468.75v-4.6M1576.5,52.2v4.8M1600.6,468.75v-4.6M1600.6,52.2v4.8M1624.7,468.75v-11.2M1624.7,52.2v8.3M1648.7,468.75v-4.6M1648.7,52.2v4.8M1672.8,468.75v-4.6M1672.8,52.2v4.8M1696.9,468.75v-4.6M1696.9,52.2v4.8M1720.9,468.75v-4.6M1720.9,52.2v4.8M1745.0,468.75v-11.2M1745.0,52.2v8.3M1095.16,449.2h4.9M1769.0,449.2h-4.7M1095.16,429.3h4.9M1769.0,429.3h-4.7M1095.16,409.5h4.9M1769.0,409.5h-4.7M1095.16,389.7h11.1M1769.0,389.7h-8.3M1095.16,369.8h4.9M1769.0,369.8h-4.7M1095.16,350.0h4.9M1769.0,350.0h-4.7M1095.16,330.2h4.9M1769.0,330.2h-4.7M1095.16,310.3h11.1M1769.0,310.3h-8.3M1095.16,290.5h4.9M1769.0,290.5h-4.7M1095.16,270.7h4.9M1769.0,270.7h-4.7M1095.16,250.8h4.9M1769.0,250.8h-4.7M1095.16,231.0h11.1M1769.0,231.0h-8.3M1095.16,211.2h4.9M1769.0,211.2h-4.7M1095.16,191.3h4.9M1769.0,191.3h-4.7M1095.16,171.5h4.9M1769.0,171.5h-4.7M1095.16,151.7h11.1M1769.0,151.7h-8.3M1095.16,131.8h4.9M1769.0,131.8h-4.7M1095.16,112.0h4.9M1769.0,112.0h-4.7M1095.16,92.2h4.9M1769.0,92.2h-4.7M1095.16,72.3h11.1M1769.0,72.3h-8.3"/>
</g>
<g>
<text x="98.09" y="501.50" font-size="30.6" xml:space="preserve">0</text>
<text x="237.57" y="501.50" font-size="30.6" xml:space="preserve">0.2</text>
<text x="386.96" y="501.50" font-size="30.6" xml:space="preserve">0.4</text>
<text x="537.01" y="501.50" font-size="30.6" xml:space="preserve">0.6</text>
<text x="686.75" y="501.50" font-size="30.6" xml:space="preserve">0.8</text>
<text x="836.67" y="501.50" font-size="30.6" xml:space="preserve">1.0</text>
<text x="54.00" y="479.27" font-size="30.6" xml:space="preserve">0.2</text>
<text x="53.38" y="386.84" font-size="30.6" xml:space="preserve">0.4</text>
<text x="53.88" y="294.41" font-size="30.6" xml:space="preserve">0.6</text>
<text x="53.75" y="201.98" font-size="30.6" xml:space="preserve">0.8</text>
<text x="64.92" y="109.35" font-size="30.6" xml:space="preserve">1</text>
<text x="1116.50" y="500.40" font-size="30.6" xml:space="preserve">0.45</text>
<text x="1243.85" y="500.40" font-size="30.6" xml:space="preserve">0.5</text>
<text x="1354.15" y="500.40" font-size="30.6" xml:space="preserve">0.55</text>
<text x="1484.81" y="500.40" font-size="30.6" xml:space="preserve">0.6</text>
<text x="1598.45" y="500.40" font-size="30.6" xml:space="preserve">0.65</text>
<text x="1725.67" y="500.40" font-size="30.6" xml:space="preserve">0.7</text>
<text x="1041.20" y="399.47" font-size="30.6" xml:space="preserve">0.2</text>
<text x="1040.58" y="320.14" font-size="30.6" xml:space="preserve">0.4</text>
<text x="1041.08" y="240.80" font-size="30.6" xml:space="preserve">0.6</text>
<text x="1040.95" y="161.47" font-size="30.6" xml:space="preserve">0.8</text>
<text x="1040.83" y="82.14" font-size="30.6" xml:space="preserve">1.0</text>
<text x="1061.12" y="479.00" font-size="30.6" xml:space="preserve">0</text>
</g>
<g>
<text x="321.70" y="548.00" font-size="36.7" xml:space="preserve">simulation time</text>
<text x="592.73" y="547.30" font-size="41" xml:space="preserve">[</text>
<text transform="translate(604.62,548) scale(1.12,1)" style="font-family:'Liberation Serif',serif" font-size="42">μ</text>
<text x="629.60" y="548.00" font-size="36.7" xml:space="preserve">s</text>
<text x="648.50" y="547.30" font-size="41" xml:space="preserve">]</text>
<text transform="translate(32.00,507.68) rotate(-90)" font-size="36.7" xml:space="preserve">membrane roughness</text>
<text transform="translate(32.10,124.67) rotate(-90)" font-size="41" xml:space="preserve">[</text>
<text transform="translate(32.00,112.08) rotate(-90)" font-size="36.7" xml:space="preserve">nm</text>
<text transform="translate(32.10,60.30) rotate(-90)" font-size="41" xml:space="preserve">]</text>
<text x="1161.62" y="546.50" font-size="36.7" xml:space="preserve">mean membrane roughness</text>
<text x="1646.92" y="545.80" font-size="41" xml:space="preserve">[</text>
<text x="1658.72" y="546.50" font-size="36.7" xml:space="preserve">nm</text>
<text x="1710.80" y="545.80" font-size="41" xml:space="preserve">]</text>
<text transform="translate(1021.30,520.88) rotate(-90)" font-size="36.7" xml:space="preserve">mean number of trans-bonds</text>
</g>
<text x="2.10" y="29.50" font-size="40" font-weight="bold" xml:space="preserve">A</text>
<text x="997.77" y="29.30" font-size="39.5" font-weight="bold" xml:space="preserve">B</text>
<g fill="#000"><circle cx="1112.16" cy="416.48" r="5.75"/><circle cx="1153.67" cy="411.11" r="5.75"/><circle cx="1181.93" cy="401.81" r="5.75"/><circle cx="1209.98" cy="397.73" r="5.75"/><circle cx="1353.95" cy="352.68" r="5.75"/><circle cx="1398.82" cy="358.62" r="5.75"/><circle cx="1420.04" cy="250.54" r="5.75"/><circle cx="1466.37" cy="300.18" r="5.75"/><circle cx="1577.82" cy="208.1" r="5.75"/><circle cx="1745.24" cy="68.61" r="5.75"/></g>
</svg>
</body></html>
